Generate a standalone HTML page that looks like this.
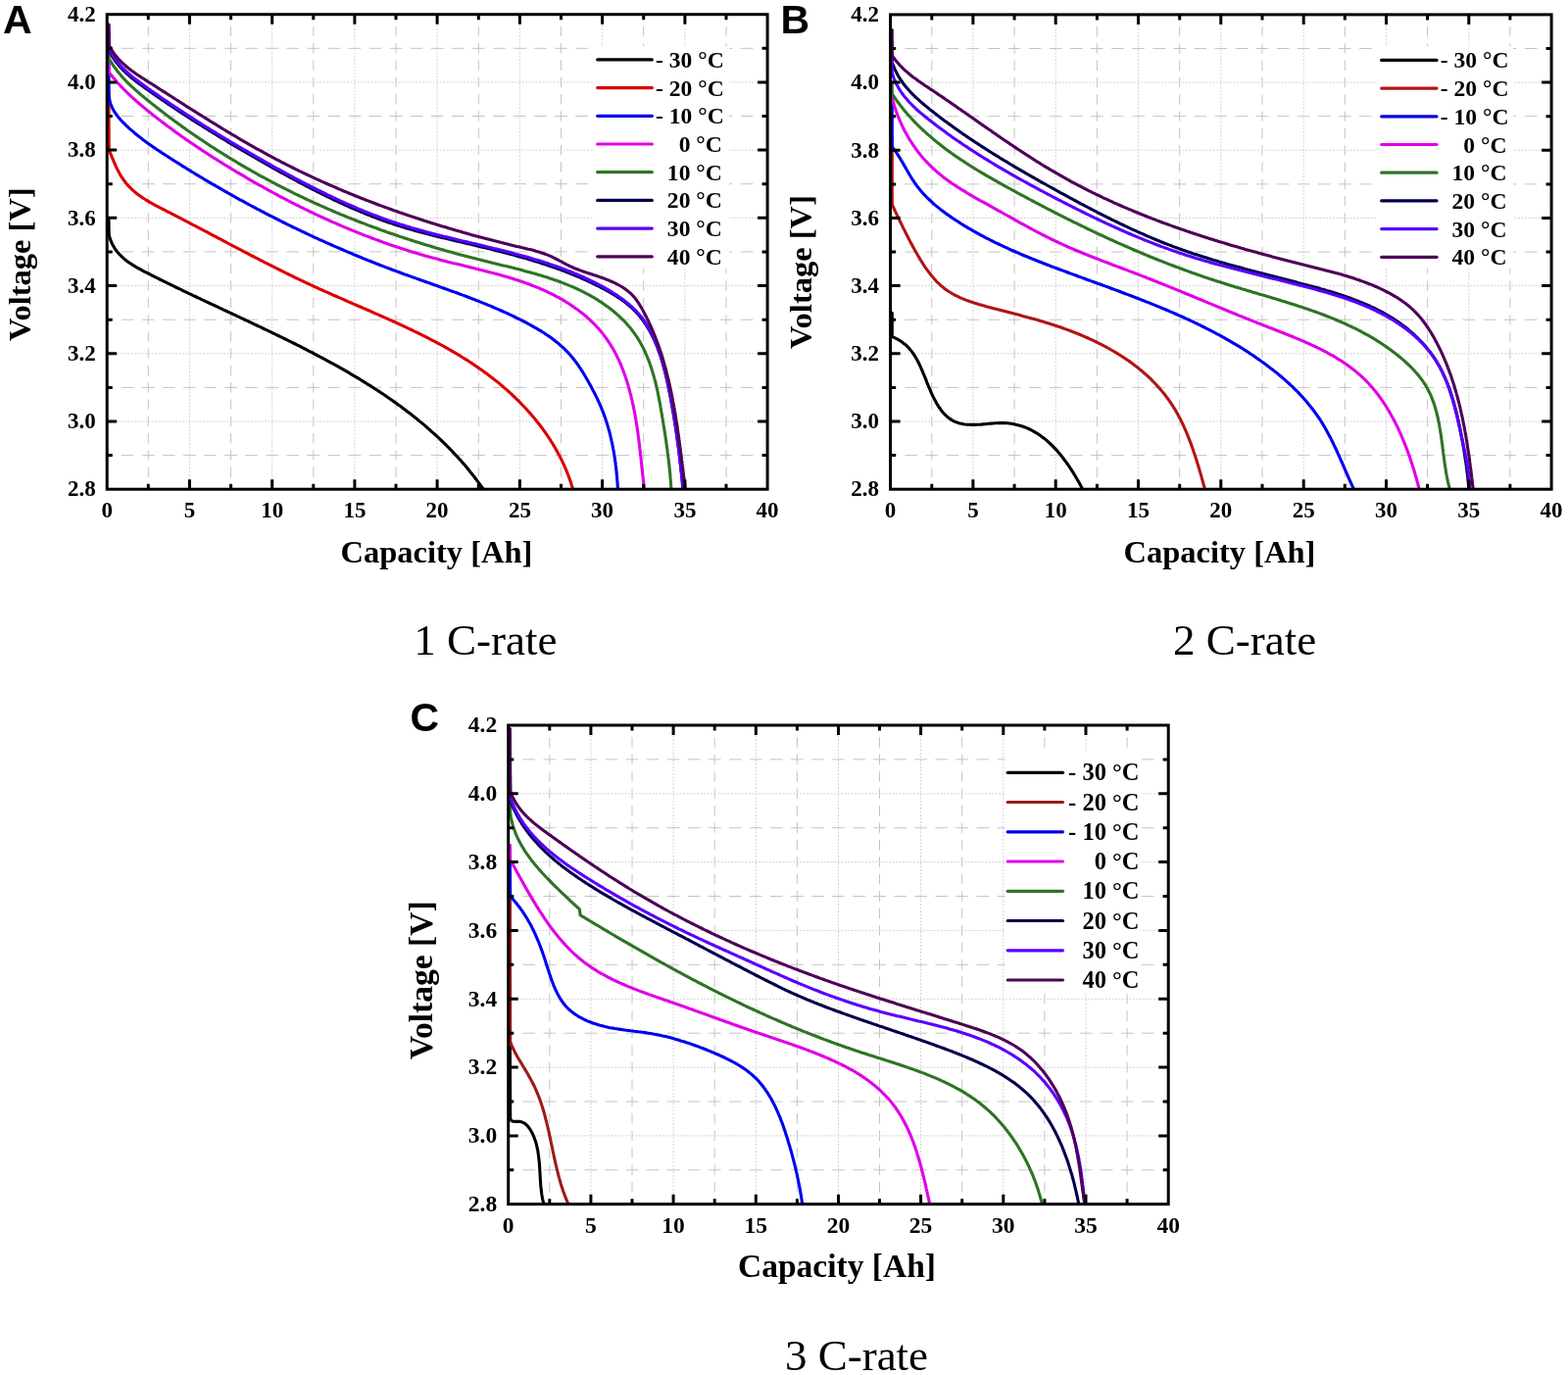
<!DOCTYPE html><html><head><meta charset="utf-8"><title>Discharge curves</title><style>html,body{margin:0;padding:0;background:#fff}svg{display:block}</style></head><body>
<svg width="1600" height="1403" viewBox="0 0 1600 1403">
<rect width="1600" height="1403" fill="#fff"/>
<clipPath id="clipA"><rect x="109.2" y="14.7" width="673.9" height="484.5"/></clipPath>
<path d="M109.2 464.6H783.1M109.2 395.4H783.1M109.2 326.2H783.1M109.2 256.9H783.1M109.2 187.7H783.1M109.2 118.5H783.1M109.2 49.3H783.1" stroke="#c4c4c4" stroke-width="1" stroke-dasharray="12.64 8.42" stroke-dashoffset="6.32" fill="none"/>
<path d="M151.3 14.7V499.2M235.6 14.7V499.2M319.8 14.7V499.2M404.0 14.7V499.2M488.3 14.7V499.2M572.5 14.7V499.2M656.7 14.7V499.2M741.0 14.7V499.2" stroke="#c4c4c4" stroke-width="1" stroke-dasharray="10.38 6.92" stroke-dashoffset="5.19" fill="none"/>
<path d="M109.2 430.0H783.1M109.2 360.8H783.1M109.2 291.6H783.1M109.2 222.3H783.1M109.2 153.1H783.1M109.2 83.9H783.1" stroke="#d2d2d2" stroke-width="1" stroke-dasharray="2 1.5" fill="none"/>
<path d="M193.4 14.7V499.2M277.7 14.7V499.2M361.9 14.7V499.2M446.1 14.7V499.2M530.4 14.7V499.2M614.6 14.7V499.2M698.9 14.7V499.2" stroke="#d2d2d2" stroke-width="1" stroke-dasharray="2 1.5" fill="none"/>
<rect x="605" y="47" width="139" height="227" fill="#fff"/>
<g clip-path="url(#clipA)" fill="none" stroke-width="3.1" stroke-linejoin="round" stroke-linecap="round">
<path d="M110.9 222.3 L111.2 239.6 L111.8 241.8 L112.4 243.9 L113.2 245.9 L114.0 247.8 L114.9 249.7 L115.9 251.4 L116.9 253.1 L118.0 254.8 L119.2 256.4 L120.4 257.9 L121.7 259.3 L123.1 260.7 L124.5 262.1 L125.9 263.4 L127.4 264.7 L128.9 265.9 L130.5 267.1 L132.1 268.2 L133.8 269.3 L135.4 270.4 L137.1 271.4 L138.9 272.5 L140.6 273.5 L142.4 274.4 L144.2 275.4 L145.9 276.3 L147.7 277.3 L149.6 278.2 L151.4 279.1 L153.2 280.0 L155.0 281.0 L156.8 281.9 L158.6 282.8 L160.4 283.7 L162.2 284.6 L164.0 285.5 L165.9 286.4 L167.7 287.3 L169.5 288.2 L171.3 289.1 L173.1 289.9 L174.9 290.8 L176.7 291.7 L178.5 292.6 L180.3 293.5 L182.2 294.3 L184.0 295.2 L185.8 296.1 L187.6 297.0 L189.4 297.8 L191.2 298.7 L193.0 299.6 L194.9 300.4 L196.7 301.3 L198.5 302.1 L200.3 303.0 L202.1 303.9 L203.9 304.7 L205.7 305.6 L207.6 306.4 L209.4 307.3 L211.2 308.1 L213.0 309.0 L214.8 309.8 L216.6 310.7 L218.4 311.5 L220.3 312.4 L222.1 313.2 L223.9 314.1 L225.7 314.9 L227.5 315.8 L229.3 316.6 L231.2 317.5 L233.0 318.3 L234.8 319.2 L236.6 320.0 L238.4 320.9 L240.2 321.7 L242.0 322.6 L243.9 323.4 L245.7 324.3 L247.5 325.1 L249.3 326.0 L251.1 326.8 L253.0 327.7 L254.8 328.6 L256.6 329.4 L258.4 330.3 L260.2 331.1 L262.0 332.0 L263.9 332.9 L265.7 333.7 L267.5 334.6 L269.3 335.5 L271.1 336.3 L273.0 337.2 L274.8 338.1 L276.6 338.9 L278.4 339.8 L280.2 340.7 L282.1 341.6 L283.9 342.5 L285.7 343.3 L287.5 344.2 L289.3 345.1 L291.2 346.0 L293.0 346.9 L294.8 347.8 L296.6 348.7 L298.4 349.6 L300.2 350.5 L302.1 351.4 L303.9 352.3 L305.7 353.2 L307.5 354.2 L309.3 355.1 L311.1 356.0 L312.9 356.9 L314.7 357.9 L316.5 358.8 L318.3 359.7 L320.1 360.7 L321.9 361.6 L323.7 362.6 L325.5 363.5 L327.3 364.5 L329.1 365.4 L330.9 366.4 L332.7 367.3 L334.5 368.3 L336.3 369.3 L338.1 370.3 L339.8 371.2 L341.6 372.2 L343.4 373.2 L345.2 374.2 L346.9 375.2 L348.7 376.2 L350.5 377.2 L352.2 378.2 L354.0 379.2 L355.7 380.2 L357.5 381.3 L359.3 382.3 L361.0 383.3 L362.7 384.4 L364.5 385.4 L366.2 386.4 L367.9 387.5 L369.7 388.6 L371.4 389.6 L373.1 390.7 L374.8 391.8 L376.6 392.8 L378.3 393.9 L380.0 395.0 L381.7 396.1 L383.4 397.2 L385.1 398.3 L386.8 399.4 L388.4 400.5 L390.1 401.6 L391.8 402.8 L393.5 403.9 L395.1 405.0 L396.8 406.2 L398.4 407.3 L400.1 408.5 L401.7 409.6 L403.4 410.8 L405.0 412.0 L406.6 413.2 L408.3 414.3 L409.9 415.5 L411.5 416.7 L413.1 417.9 L414.7 419.2 L416.3 420.4 L417.9 421.6 L419.5 422.8 L421.1 424.1 L422.6 425.3 L424.2 426.6 L425.8 427.8 L427.3 429.1 L428.9 430.4 L430.4 431.6 L432.0 432.9 L433.5 434.2 L435.0 435.5 L436.5 436.8 L438.0 438.1 L439.5 439.5 L441.0 440.8 L442.5 442.1 L444.0 443.5 L445.5 444.8 L446.9 446.2 L448.4 447.6 L449.9 449.0 L451.3 450.3 L452.7 451.7 L454.2 453.1 L455.6 454.5 L457.0 456.0 L458.4 457.4 L459.8 458.8 L461.2 460.3 L462.6 461.7 L464.0 463.2 L465.3 464.6 L466.7 466.1 L468.0 467.6 L469.4 469.1 L470.7 470.6 L472.0 472.1 L473.4 473.6 L474.7 475.1 L476.0 476.7 L477.3 478.2 L478.5 479.8 L479.8 481.4 L481.1 482.9 L482.3 484.5 L483.6 486.1 L484.8 487.7 L486.0 489.3 L487.2 490.9 L488.5 492.6 L489.7 494.2 L490.8 495.8 L492.0 497.5 L493.2 499.2" stroke="#000000"/>
<path d="M110.9 94.3 L111.2 153.1 L112.0 154.9 L112.7 156.6 L113.5 158.4 L114.2 160.3 L115.0 162.2 L115.8 164.1 L116.6 166.0 L117.5 167.9 L118.3 169.8 L119.2 171.7 L120.2 173.6 L121.1 175.4 L122.1 177.3 L123.2 179.1 L124.3 180.8 L125.4 182.5 L126.6 184.2 L127.8 185.8 L129.0 187.4 L130.3 188.9 L131.7 190.3 L133.1 191.7 L134.5 193.1 L135.9 194.4 L137.4 195.7 L139.0 197.0 L140.5 198.2 L142.1 199.4 L143.7 200.5 L145.3 201.6 L147.0 202.7 L148.7 203.8 L150.4 204.8 L152.1 205.9 L153.8 206.9 L155.6 207.9 L157.3 208.8 L159.1 209.8 L160.9 210.7 L162.7 211.7 L164.5 212.6 L166.3 213.5 L168.1 214.4 L169.9 215.4 L171.7 216.3 L173.5 217.2 L175.3 218.1 L177.1 219.0 L178.9 220.0 L180.7 220.9 L182.5 221.8 L184.2 222.7 L186.0 223.7 L187.8 224.6 L189.6 225.5 L191.4 226.5 L193.2 227.4 L195.0 228.3 L196.7 229.3 L198.5 230.2 L200.3 231.1 L202.1 232.1 L203.9 233.0 L205.6 233.9 L207.4 234.9 L209.2 235.8 L211.0 236.7 L212.8 237.7 L214.5 238.6 L216.3 239.6 L218.1 240.5 L219.9 241.4 L221.6 242.4 L223.4 243.3 L225.2 244.2 L226.9 245.2 L228.7 246.1 L230.5 247.0 L232.3 248.0 L234.0 248.9 L235.8 249.8 L237.6 250.8 L239.3 251.7 L241.1 252.6 L242.9 253.6 L244.7 254.5 L246.4 255.4 L248.2 256.4 L250.0 257.3 L251.8 258.2 L253.5 259.1 L255.3 260.1 L257.1 261.0 L258.9 261.9 L260.6 262.8 L262.4 263.7 L264.2 264.7 L266.0 265.6 L267.8 266.5 L269.5 267.4 L271.3 268.3 L273.1 269.2 L274.9 270.1 L276.7 271.0 L278.5 271.9 L280.3 272.8 L282.0 273.7 L283.8 274.6 L285.6 275.5 L287.4 276.4 L289.2 277.3 L291.0 278.2 L292.8 279.1 L294.6 280.0 L296.4 280.8 L298.2 281.7 L300.0 282.6 L301.8 283.5 L303.6 284.3 L305.4 285.2 L307.3 286.1 L309.1 286.9 L310.9 287.8 L312.7 288.7 L314.5 289.5 L316.4 290.4 L318.2 291.2 L320.0 292.1 L321.8 292.9 L323.7 293.7 L325.5 294.6 L327.3 295.4 L329.2 296.2 L331.0 297.1 L332.9 297.9 L334.7 298.7 L336.6 299.5 L338.4 300.4 L340.3 301.2 L342.1 302.0 L344.0 302.8 L345.8 303.6 L347.7 304.4 L349.5 305.2 L351.4 306.0 L353.2 306.8 L355.1 307.7 L356.9 308.5 L358.8 309.3 L360.7 310.1 L362.5 310.9 L364.4 311.7 L366.2 312.5 L368.1 313.3 L369.9 314.1 L371.8 314.9 L373.7 315.7 L375.5 316.5 L377.4 317.3 L379.2 318.1 L381.1 319.0 L382.9 319.8 L384.8 320.6 L386.6 321.4 L388.5 322.2 L390.3 323.0 L392.2 323.9 L394.0 324.7 L395.9 325.5 L397.7 326.3 L399.6 327.2 L401.4 328.0 L403.3 328.8 L405.1 329.7 L406.9 330.5 L408.8 331.4 L410.6 332.2 L412.4 333.1 L414.3 333.9 L416.1 334.8 L417.9 335.6 L419.7 336.5 L421.5 337.4 L423.4 338.3 L425.2 339.1 L427.0 340.0 L428.8 340.9 L430.6 341.8 L432.4 342.7 L434.2 343.6 L436.0 344.5 L437.7 345.4 L439.5 346.3 L441.3 347.3 L443.1 348.2 L444.9 349.1 L446.6 350.1 L448.4 351.0 L450.2 352.0 L451.9 352.9 L453.7 353.9 L455.4 354.9 L457.2 355.9 L458.9 356.9 L460.6 357.9 L462.3 358.9 L464.1 359.9 L465.8 360.9 L467.5 361.9 L469.2 362.9 L470.9 364.0 L472.6 365.0 L474.3 366.1 L476.0 367.2 L477.7 368.2 L479.3 369.3 L481.0 370.4 L482.7 371.5 L484.3 372.6 L486.0 373.7 L487.6 374.9 L489.2 376.0 L490.9 377.1 L492.5 378.3 L494.1 379.5 L495.7 380.6 L497.3 381.8 L498.9 383.0 L500.5 384.2 L502.1 385.4 L503.7 386.7 L505.2 387.9 L506.8 389.1 L508.4 390.4 L509.9 391.7 L511.4 393.0 L513.0 394.3 L514.5 395.6 L516.0 396.9 L517.5 398.2 L519.0 399.5 L520.5 400.9 L522.0 402.2 L523.4 403.6 L524.9 405.0 L526.3 406.4 L527.8 407.8 L529.2 409.2 L530.6 410.6 L532.0 412.1 L533.4 413.5 L534.8 415.0 L536.2 416.5 L537.5 417.9 L538.9 419.4 L540.2 420.9 L541.6 422.4 L542.9 424.0 L544.2 425.5 L545.5 427.0 L546.7 428.6 L548.0 430.2 L549.2 431.7 L550.5 433.3 L551.7 434.9 L552.9 436.5 L554.1 438.2 L555.3 439.8 L556.4 441.4 L557.6 443.1 L558.7 444.7 L559.8 446.4 L561.0 448.1 L562.0 449.8 L563.1 451.5 L564.2 453.2 L565.2 454.9 L566.2 456.6 L567.2 458.4 L568.2 460.1 L569.2 461.9 L570.1 463.7 L571.1 465.5 L572.0 467.2 L572.9 469.0 L573.8 470.9 L574.6 472.7 L575.5 474.5 L576.3 476.4 L577.1 478.2 L577.9 480.1 L578.6 481.9 L579.4 483.8 L580.1 485.7 L580.8 487.6 L581.5 489.5 L582.2 491.4 L582.8 493.4 L583.4 495.3 L584.0 497.3 L584.6 499.2" stroke="#dc0000"/>
<path d="M110.9 63.2 L111.2 97.8 L111.5 99.9 L111.8 102.0 L112.3 104.0 L112.9 106.0 L113.6 107.9 L114.4 109.7 L115.3 111.4 L116.2 113.1 L117.3 114.8 L118.4 116.4 L119.5 118.0 L120.7 119.5 L122.0 121.0 L123.3 122.5 L124.6 123.9 L126.0 125.3 L127.4 126.7 L128.8 128.1 L130.3 129.4 L131.7 130.8 L133.2 132.1 L134.7 133.4 L136.2 134.7 L137.7 136.0 L139.2 137.2 L140.8 138.5 L142.4 139.7 L143.9 140.9 L145.5 142.2 L147.1 143.4 L148.7 144.6 L150.4 145.7 L152.0 146.9 L153.6 148.1 L155.3 149.2 L156.9 150.4 L158.6 151.5 L160.3 152.7 L162.0 153.8 L163.7 154.9 L165.3 156.0 L167.0 157.1 L168.7 158.2 L170.4 159.3 L172.1 160.4 L173.8 161.5 L175.6 162.6 L177.3 163.7 L179.0 164.8 L180.7 165.9 L182.4 166.9 L184.1 168.0 L185.8 169.1 L187.5 170.2 L189.3 171.2 L191.0 172.3 L192.7 173.3 L194.4 174.4 L196.1 175.5 L197.9 176.5 L199.6 177.6 L201.3 178.6 L203.0 179.6 L204.8 180.7 L206.5 181.7 L208.2 182.8 L210.0 183.8 L211.7 184.8 L213.4 185.8 L215.2 186.9 L216.9 187.9 L218.7 188.9 L220.4 189.9 L222.2 190.9 L223.9 191.9 L225.6 192.9 L227.4 193.9 L229.1 194.9 L230.9 195.9 L232.6 196.9 L234.4 197.9 L236.2 198.9 L237.9 199.9 L239.7 200.8 L241.4 201.8 L243.2 202.8 L244.9 203.8 L246.7 204.7 L248.5 205.7 L250.2 206.7 L252.0 207.6 L253.8 208.6 L255.5 209.5 L257.3 210.5 L259.1 211.4 L260.9 212.4 L262.6 213.3 L264.4 214.2 L266.2 215.2 L268.0 216.1 L269.8 217.0 L271.5 218.0 L273.3 218.9 L275.1 219.8 L276.9 220.7 L278.7 221.6 L280.5 222.5 L282.3 223.4 L284.1 224.3 L285.8 225.2 L287.6 226.1 L289.4 227.0 L291.2 227.9 L293.0 228.8 L294.8 229.7 L296.6 230.6 L298.4 231.5 L300.2 232.3 L302.1 233.2 L303.9 234.1 L305.7 234.9 L307.5 235.8 L309.3 236.7 L311.1 237.5 L312.9 238.4 L314.7 239.2 L316.5 240.1 L318.4 240.9 L320.2 241.8 L322.0 242.6 L323.8 243.4 L325.7 244.3 L327.5 245.1 L329.3 245.9 L331.1 246.7 L333.0 247.6 L334.8 248.4 L336.6 249.2 L338.5 250.0 L340.3 250.8 L342.1 251.6 L344.0 252.4 L345.8 253.2 L347.6 254.0 L349.5 254.8 L351.3 255.6 L353.2 256.4 L355.0 257.2 L356.9 257.9 L358.7 258.7 L360.6 259.5 L362.4 260.3 L364.3 261.0 L366.1 261.8 L368.0 262.5 L369.8 263.3 L371.7 264.1 L373.5 264.8 L375.4 265.6 L377.3 266.3 L379.1 267.0 L381.0 267.8 L382.9 268.5 L384.7 269.3 L386.6 270.0 L388.5 270.7 L390.3 271.4 L392.2 272.1 L394.1 272.9 L396.0 273.6 L397.8 274.3 L399.7 275.0 L401.6 275.7 L403.5 276.4 L405.4 277.1 L407.2 277.8 L409.1 278.5 L411.0 279.2 L412.9 279.9 L414.8 280.5 L416.7 281.2 L418.6 281.9 L420.5 282.6 L422.4 283.3 L424.2 283.9 L426.1 284.6 L428.0 285.3 L429.9 286.0 L431.8 286.6 L433.7 287.3 L435.6 288.0 L437.5 288.6 L439.4 289.3 L441.3 290.0 L443.2 290.7 L445.1 291.3 L447.0 292.0 L448.9 292.7 L450.8 293.4 L452.7 294.0 L454.6 294.7 L456.5 295.4 L458.3 296.1 L460.2 296.8 L462.1 297.4 L464.0 298.1 L465.9 298.8 L467.8 299.5 L469.7 300.2 L471.6 300.9 L473.5 301.6 L475.3 302.3 L477.2 303.0 L479.1 303.8 L481.0 304.5 L482.9 305.2 L484.7 305.9 L486.6 306.7 L488.5 307.4 L490.4 308.1 L492.2 308.9 L494.1 309.6 L496.0 310.4 L497.8 311.2 L499.7 311.9 L501.5 312.7 L503.4 313.5 L505.2 314.3 L507.1 315.1 L508.9 315.9 L510.8 316.7 L512.6 317.5 L514.5 318.4 L516.3 319.2 L518.2 320.0 L520.0 320.9 L521.8 321.7 L523.6 322.6 L525.5 323.5 L527.3 324.4 L529.1 325.3 L530.9 326.2 L532.7 327.1 L534.5 328.0 L536.3 328.9 L538.1 329.9 L539.9 330.8 L541.7 331.8 L543.5 332.8 L545.2 333.8 L547.0 334.8 L548.7 335.8 L550.4 336.8 L552.2 337.9 L553.9 339.0 L555.6 340.0 L557.2 341.2 L558.9 342.3 L560.5 343.4 L562.2 344.6 L563.8 345.8 L565.4 347.0 L566.9 348.2 L568.5 349.4 L570.0 350.7 L571.5 352.0 L573.0 353.3 L574.5 354.6 L575.9 356.0 L577.3 357.4 L578.7 358.8 L580.1 360.2 L581.4 361.7 L582.7 363.2 L584.0 364.7 L585.2 366.2 L586.4 367.8 L587.6 369.4 L588.8 371.0 L590.0 372.6 L591.1 374.3 L592.2 375.9 L593.3 377.6 L594.4 379.3 L595.5 381.0 L596.5 382.8 L597.5 384.5 L598.5 386.3 L599.5 388.0 L600.5 389.8 L601.5 391.6 L602.5 393.3 L603.4 395.1 L604.4 396.9 L605.3 398.7 L606.3 400.5 L607.2 402.3 L608.1 404.1 L609.0 405.9 L609.9 407.8 L610.7 409.6 L611.6 411.4 L612.4 413.3 L613.2 415.1 L613.9 417.0 L614.7 418.8 L615.4 420.7 L616.1 422.6 L616.8 424.4 L617.5 426.3 L618.1 428.2 L618.7 430.1 L619.3 432.0 L619.9 433.9 L620.5 435.8 L621.0 437.7 L621.6 439.6 L622.1 441.6 L622.6 443.5 L623.0 445.4 L623.5 447.4 L623.9 449.3 L624.4 451.3 L624.8 453.2 L625.2 455.2 L625.5 457.2 L625.9 459.1 L626.3 461.1 L626.6 463.1 L626.9 465.0 L627.2 467.0 L627.5 469.0 L627.8 471.0 L628.1 473.0 L628.3 475.0 L628.6 477.0 L628.8 479.0 L629.0 481.0 L629.2 483.0 L629.4 485.0 L629.6 487.0 L629.7 489.1 L629.9 491.1 L630.1 493.1 L630.2 495.1 L630.3 497.2 L630.5 499.2" stroke="#0000f0"/>
<path d="M110.9 63.2 L111.2 73.6 L112.3 75.2 L113.6 76.7 L114.8 78.3 L116.0 79.8 L117.3 81.3 L118.6 82.8 L119.9 84.3 L121.2 85.7 L122.6 87.2 L123.9 88.6 L125.3 90.0 L126.7 91.5 L128.1 92.9 L129.5 94.2 L130.9 95.6 L132.4 97.0 L133.8 98.3 L135.3 99.7 L136.8 101.0 L138.2 102.3 L139.7 103.7 L141.2 105.0 L142.8 106.3 L144.3 107.6 L145.8 108.8 L147.3 110.1 L148.9 111.4 L150.4 112.7 L152.0 113.9 L153.6 115.2 L155.1 116.4 L156.7 117.7 L158.3 118.9 L159.9 120.2 L161.4 121.4 L163.0 122.6 L164.6 123.9 L166.2 125.1 L167.8 126.3 L169.4 127.5 L171.0 128.7 L172.7 129.9 L174.3 131.1 L175.9 132.3 L177.5 133.5 L179.2 134.7 L180.8 135.9 L182.5 137.0 L184.1 138.2 L185.8 139.4 L187.4 140.5 L189.1 141.7 L190.7 142.9 L192.4 144.0 L194.1 145.2 L195.7 146.3 L197.4 147.4 L199.1 148.6 L200.8 149.7 L202.5 150.8 L204.1 151.9 L205.8 153.1 L207.5 154.2 L209.2 155.3 L210.9 156.4 L212.6 157.5 L214.3 158.6 L216.0 159.7 L217.7 160.8 L219.4 161.8 L221.1 162.9 L222.9 164.0 L224.6 165.1 L226.3 166.1 L228.0 167.2 L229.7 168.3 L231.5 169.3 L233.2 170.4 L234.9 171.4 L236.6 172.5 L238.4 173.5 L240.1 174.6 L241.8 175.6 L243.6 176.6 L245.3 177.7 L247.0 178.7 L248.8 179.7 L250.5 180.7 L252.2 181.8 L254.0 182.8 L255.7 183.8 L257.5 184.8 L259.2 185.8 L261.0 186.8 L262.7 187.8 L264.5 188.8 L266.2 189.7 L268.0 190.7 L269.7 191.7 L271.5 192.7 L273.2 193.6 L275.0 194.6 L276.8 195.6 L278.5 196.5 L280.3 197.5 L282.1 198.4 L283.8 199.4 L285.6 200.3 L287.4 201.3 L289.1 202.2 L290.9 203.1 L292.7 204.0 L294.5 205.0 L296.2 205.9 L298.0 206.8 L299.8 207.7 L301.6 208.6 L303.4 209.5 L305.2 210.4 L307.0 211.3 L308.8 212.2 L310.6 213.1 L312.4 213.9 L314.1 214.8 L315.9 215.7 L317.8 216.5 L319.6 217.4 L321.4 218.3 L323.2 219.1 L325.0 220.0 L326.8 220.8 L328.6 221.6 L330.4 222.5 L332.2 223.3 L334.1 224.1 L335.9 225.0 L337.7 225.8 L339.5 226.6 L341.4 227.4 L343.2 228.2 L345.0 229.0 L346.9 229.8 L348.7 230.6 L350.5 231.4 L352.4 232.1 L354.2 232.9 L356.1 233.7 L357.9 234.4 L359.8 235.2 L361.6 235.9 L363.5 236.7 L365.3 237.4 L367.2 238.2 L369.0 238.9 L370.9 239.7 L372.8 240.4 L374.6 241.1 L376.5 241.8 L378.4 242.5 L380.2 243.2 L382.1 243.9 L384.0 244.6 L385.9 245.3 L387.8 246.0 L389.7 246.7 L391.5 247.4 L393.4 248.0 L395.3 248.7 L397.2 249.4 L399.1 250.0 L401.0 250.7 L402.9 251.3 L404.8 251.9 L406.7 252.6 L408.6 253.2 L410.5 253.8 L412.5 254.4 L414.4 255.1 L416.3 255.7 L418.2 256.3 L420.1 256.9 L422.1 257.5 L424.0 258.0 L425.9 258.6 L427.9 259.2 L429.8 259.8 L431.7 260.3 L433.7 260.9 L435.6 261.4 L437.6 262.0 L439.5 262.5 L441.5 263.1 L443.4 263.6 L445.4 264.1 L447.4 264.6 L449.3 265.2 L451.3 265.7 L453.3 266.2 L455.2 266.7 L457.2 267.2 L459.2 267.7 L461.1 268.2 L463.1 268.7 L465.1 269.1 L467.1 269.6 L469.1 270.1 L471.0 270.6 L473.0 271.1 L475.0 271.6 L477.0 272.0 L479.0 272.5 L480.9 273.0 L482.9 273.5 L484.9 274.0 L486.9 274.5 L488.8 274.9 L490.8 275.4 L492.8 275.9 L494.8 276.4 L496.7 276.9 L498.7 277.4 L500.7 278.0 L502.6 278.5 L504.6 279.0 L506.5 279.5 L508.5 280.1 L510.5 280.6 L512.4 281.2 L514.3 281.7 L516.3 282.3 L518.2 282.8 L520.2 283.4 L522.1 284.0 L524.0 284.6 L525.9 285.2 L527.8 285.8 L529.8 286.5 L531.7 287.1 L533.6 287.8 L535.5 288.4 L537.3 289.1 L539.2 289.8 L541.1 290.5 L543.0 291.2 L544.8 291.9 L546.7 292.7 L548.6 293.4 L550.4 294.2 L552.2 295.0 L554.1 295.8 L555.9 296.6 L557.7 297.4 L559.5 298.3 L561.3 299.1 L563.1 300.0 L564.9 300.9 L566.6 301.8 L568.4 302.8 L570.2 303.7 L571.9 304.7 L573.7 305.7 L575.4 306.7 L577.1 307.8 L578.8 308.8 L580.5 309.9 L582.2 311.0 L583.8 312.1 L585.5 313.2 L587.1 314.4 L588.8 315.6 L590.4 316.8 L592.0 318.0 L593.6 319.2 L595.1 320.4 L596.7 321.7 L598.2 323.0 L599.7 324.3 L601.2 325.7 L602.6 327.0 L604.1 328.4 L605.5 329.8 L606.9 331.2 L608.2 332.6 L609.6 334.1 L610.9 335.5 L612.2 337.0 L613.5 338.5 L614.7 340.1 L615.9 341.6 L617.1 343.2 L618.3 344.8 L619.4 346.4 L620.5 348.0 L621.6 349.6 L622.7 351.3 L623.7 352.9 L624.7 354.6 L625.7 356.3 L626.7 358.1 L627.6 359.8 L628.5 361.5 L629.4 363.3 L630.3 365.1 L631.2 366.9 L632.0 368.7 L632.8 370.5 L633.6 372.3 L634.4 374.2 L635.1 376.1 L635.8 377.9 L636.5 379.8 L637.2 381.7 L637.9 383.6 L638.5 385.5 L639.2 387.4 L639.8 389.4 L640.4 391.3 L641.0 393.3 L641.5 395.2 L642.1 397.2 L642.6 399.1 L643.1 401.1 L643.7 403.1 L644.1 405.1 L644.6 407.1 L645.1 409.1 L645.5 411.1 L646.0 413.1 L646.4 415.2 L646.8 417.2 L647.2 419.2 L647.6 421.2 L648.0 423.3 L648.3 425.3 L648.7 427.4 L649.0 429.4 L649.3 431.4 L649.7 433.5 L650.0 435.5 L650.3 437.6 L650.6 439.6 L650.9 441.7 L651.2 443.7 L651.4 445.7 L651.7 447.8 L652.0 449.8 L652.2 451.9 L652.5 453.9 L652.7 455.9 L652.9 458.0 L653.2 460.0 L653.4 462.0 L653.6 464.0 L653.9 466.0 L654.1 468.1 L654.3 470.1 L654.5 472.1 L654.7 474.0 L654.9 476.0 L655.1 478.0 L655.3 480.0 L655.5 481.9 L655.7 483.9 L655.9 485.8 L656.2 487.8 L656.4 489.7 L656.6 491.6 L656.8 493.5 L657.0 495.4 L657.2 497.3 L657.4 499.2" stroke="#e000e8"/>
<path d="M110.9 49.3 L111.2 59.7 L112.2 61.5 L113.2 63.2 L114.3 64.9 L115.4 66.6 L116.6 68.2 L117.7 69.8 L118.9 71.4 L120.1 73.0 L121.4 74.6 L122.7 76.1 L123.9 77.6 L125.3 79.1 L126.6 80.5 L128.0 82.0 L129.3 83.4 L130.7 84.8 L132.1 86.2 L133.6 87.5 L135.0 88.9 L136.5 90.2 L138.0 91.6 L139.5 92.9 L141.0 94.2 L142.5 95.5 L144.0 96.8 L145.5 98.1 L147.1 99.3 L148.6 100.6 L150.1 101.9 L151.7 103.1 L153.3 104.4 L154.8 105.6 L156.4 106.9 L158.0 108.1 L159.5 109.4 L161.1 110.6 L162.7 111.8 L164.3 113.1 L165.9 114.3 L167.5 115.5 L169.1 116.7 L170.7 117.9 L172.3 119.2 L173.9 120.4 L175.5 121.6 L177.1 122.8 L178.8 124.0 L180.4 125.1 L182.0 126.3 L183.7 127.5 L185.3 128.7 L186.9 129.9 L188.6 131.0 L190.2 132.2 L191.9 133.4 L193.5 134.5 L195.2 135.7 L196.8 136.8 L198.5 138.0 L200.2 139.1 L201.8 140.3 L203.5 141.4 L205.2 142.5 L206.9 143.6 L208.6 144.8 L210.3 145.9 L211.9 147.0 L213.6 148.1 L215.3 149.2 L217.0 150.3 L218.7 151.4 L220.4 152.5 L222.1 153.6 L223.8 154.7 L225.6 155.7 L227.3 156.8 L229.0 157.9 L230.7 158.9 L232.4 160.0 L234.2 161.1 L235.9 162.1 L237.6 163.2 L239.3 164.2 L241.1 165.2 L242.8 166.3 L244.6 167.3 L246.3 168.3 L248.0 169.3 L249.8 170.4 L251.5 171.4 L253.3 172.4 L255.0 173.4 L256.8 174.4 L258.6 175.4 L260.3 176.3 L262.1 177.3 L263.8 178.3 L265.6 179.3 L267.4 180.3 L269.1 181.2 L270.9 182.2 L272.7 183.1 L274.5 184.1 L276.2 185.0 L278.0 186.0 L279.8 186.9 L281.6 187.8 L283.3 188.8 L285.1 189.7 L286.9 190.6 L288.7 191.5 L290.5 192.4 L292.3 193.3 L294.1 194.2 L295.9 195.1 L297.7 196.0 L299.4 196.9 L301.2 197.8 L303.0 198.6 L304.8 199.5 L306.6 200.4 L308.5 201.2 L310.3 202.1 L312.1 203.0 L313.9 203.8 L315.7 204.6 L317.5 205.5 L319.3 206.3 L321.1 207.1 L322.9 208.0 L324.8 208.8 L326.6 209.6 L328.4 210.4 L330.2 211.2 L332.1 212.0 L333.9 212.8 L335.7 213.6 L337.5 214.4 L339.4 215.2 L341.2 216.0 L343.0 216.8 L344.9 217.5 L346.7 218.3 L348.6 219.1 L350.4 219.8 L352.3 220.6 L354.1 221.3 L355.9 222.1 L357.8 222.8 L359.6 223.6 L361.5 224.3 L363.4 225.0 L365.2 225.8 L367.1 226.5 L368.9 227.2 L370.8 227.9 L372.7 228.6 L374.5 229.4 L376.4 230.1 L378.3 230.8 L380.1 231.5 L382.0 232.1 L383.9 232.8 L385.7 233.5 L387.6 234.2 L389.5 234.9 L391.4 235.5 L393.3 236.2 L395.1 236.9 L397.0 237.5 L398.9 238.2 L400.8 238.8 L402.7 239.5 L404.6 240.1 L406.5 240.8 L408.4 241.4 L410.3 242.1 L412.2 242.7 L414.1 243.3 L416.0 243.9 L417.9 244.6 L419.8 245.2 L421.7 245.8 L423.6 246.4 L425.5 247.0 L427.4 247.6 L429.4 248.2 L431.3 248.8 L433.2 249.4 L435.1 250.0 L437.0 250.6 L439.0 251.1 L440.9 251.7 L442.8 252.3 L444.8 252.9 L446.7 253.4 L448.6 254.0 L450.6 254.5 L452.5 255.1 L454.4 255.7 L456.4 256.2 L458.3 256.8 L460.3 257.3 L462.2 257.8 L464.2 258.4 L466.1 258.9 L468.1 259.4 L470.0 260.0 L472.0 260.5 L473.9 261.0 L475.9 261.5 L477.9 262.0 L479.8 262.5 L481.8 263.1 L483.8 263.6 L485.7 264.1 L487.7 264.6 L489.7 265.0 L491.7 265.5 L493.6 266.0 L495.6 266.5 L497.6 267.0 L499.6 267.5 L501.6 268.0 L503.5 268.4 L505.5 268.9 L507.5 269.4 L509.5 269.9 L511.5 270.4 L513.5 270.9 L515.4 271.3 L517.4 271.8 L519.4 272.3 L521.4 272.8 L523.4 273.3 L525.3 273.8 L527.3 274.3 L529.3 274.8 L531.2 275.3 L533.2 275.8 L535.2 276.4 L537.1 276.9 L539.1 277.4 L541.1 277.9 L543.0 278.5 L545.0 279.0 L546.9 279.6 L548.8 280.2 L550.8 280.7 L552.7 281.3 L554.6 281.9 L556.6 282.5 L558.5 283.1 L560.4 283.8 L562.3 284.4 L564.2 285.0 L566.1 285.7 L568.0 286.3 L569.9 287.0 L571.7 287.7 L573.6 288.4 L575.5 289.1 L577.3 289.9 L579.2 290.6 L581.0 291.4 L582.8 292.1 L584.7 292.9 L586.5 293.7 L588.3 294.5 L590.1 295.4 L591.9 296.2 L593.7 297.1 L595.4 298.0 L597.2 298.9 L598.9 299.8 L600.7 300.7 L602.4 301.7 L604.1 302.7 L605.9 303.7 L607.6 304.7 L609.3 305.7 L610.9 306.8 L612.6 307.8 L614.3 308.9 L615.9 310.1 L617.5 311.2 L619.2 312.4 L620.8 313.5 L622.4 314.7 L623.9 316.0 L625.5 317.2 L627.0 318.5 L628.6 319.8 L630.1 321.1 L631.5 322.4 L633.0 323.8 L634.4 325.2 L635.9 326.6 L637.3 328.0 L638.6 329.4 L640.0 330.9 L641.3 332.4 L642.6 333.9 L643.8 335.4 L645.0 337.0 L646.2 338.6 L647.4 340.2 L648.5 341.8 L649.6 343.4 L650.7 345.1 L651.7 346.7 L652.8 348.4 L653.7 350.2 L654.7 351.9 L655.6 353.6 L656.5 355.4 L657.4 357.2 L658.2 359.0 L659.0 360.8 L659.8 362.6 L660.6 364.5 L661.3 366.4 L662.1 368.2 L662.8 370.1 L663.4 372.0 L664.1 373.9 L664.7 375.8 L665.3 377.8 L665.9 379.7 L666.5 381.7 L667.1 383.6 L667.6 385.6 L668.2 387.6 L668.7 389.5 L669.2 391.5 L669.6 393.5 L670.1 395.5 L670.6 397.5 L671.0 399.5 L671.4 401.5 L671.8 403.6 L672.2 405.6 L672.6 407.6 L673.0 409.6 L673.4 411.6 L673.8 413.7 L674.1 415.7 L674.5 417.7 L674.8 419.7 L675.2 421.8 L675.5 423.8 L675.8 425.8 L676.2 427.8 L676.5 429.8 L676.8 431.8 L677.1 433.8 L677.5 435.8 L677.8 437.8 L678.1 439.8 L678.4 441.8 L678.7 443.7 L679.0 445.7 L679.3 447.7 L679.6 449.7 L679.9 451.6 L680.1 453.6 L680.4 455.6 L680.7 457.5 L681.0 459.5 L681.2 461.5 L681.5 463.5 L681.7 465.4 L682.0 467.4 L682.2 469.4 L682.4 471.3 L682.7 473.3 L682.9 475.3 L683.1 477.2 L683.3 479.2 L683.5 481.2 L683.7 483.2 L683.9 485.2 L684.0 487.2 L684.2 489.2 L684.4 491.2 L684.5 493.2 L684.6 495.2 L684.8 497.2 L684.9 499.2" stroke="#2e7424"/>
<path d="M110.9 32.0 L111.2 51.1 L112.0 52.9 L113.0 54.7 L113.9 56.4 L114.9 58.1 L116.0 59.8 L117.1 61.4 L118.2 63.0 L119.4 64.5 L120.7 66.0 L121.9 67.5 L123.2 69.0 L124.6 70.4 L126.0 71.8 L127.4 73.2 L128.8 74.6 L130.2 75.9 L131.7 77.2 L133.2 78.5 L134.8 79.8 L136.3 81.1 L137.9 82.3 L139.5 83.5 L141.1 84.7 L142.7 85.9 L144.3 87.1 L146.0 88.3 L147.6 89.5 L149.2 90.7 L150.9 91.8 L152.6 93.0 L154.2 94.2 L155.9 95.3 L157.5 96.5 L159.2 97.6 L160.8 98.7 L162.5 99.9 L164.2 101.0 L165.8 102.2 L167.5 103.3 L169.2 104.4 L170.8 105.6 L172.5 106.7 L174.2 107.8 L175.8 108.9 L177.5 110.0 L179.2 111.1 L180.9 112.2 L182.5 113.4 L184.2 114.5 L185.9 115.6 L187.6 116.7 L189.3 117.7 L190.9 118.8 L192.6 119.9 L194.3 121.0 L196.0 122.1 L197.7 123.2 L199.4 124.3 L201.1 125.3 L202.8 126.4 L204.5 127.5 L206.2 128.5 L207.9 129.6 L209.6 130.7 L211.3 131.7 L213.0 132.8 L214.7 133.8 L216.4 134.9 L218.1 135.9 L219.8 137.0 L221.5 138.0 L223.2 139.1 L224.9 140.1 L226.6 141.2 L228.3 142.2 L230.1 143.2 L231.8 144.3 L233.5 145.3 L235.2 146.3 L236.9 147.3 L238.7 148.4 L240.4 149.4 L242.1 150.4 L243.8 151.4 L245.6 152.4 L247.3 153.5 L249.0 154.5 L250.8 155.5 L252.5 156.5 L254.2 157.5 L256.0 158.5 L257.7 159.5 L259.4 160.5 L261.2 161.5 L262.9 162.5 L264.6 163.5 L266.4 164.5 L268.1 165.5 L269.9 166.5 L271.6 167.4 L273.4 168.4 L275.1 169.4 L276.9 170.4 L278.6 171.4 L280.4 172.4 L282.1 173.3 L283.9 174.3 L285.7 175.3 L287.4 176.3 L289.2 177.2 L290.9 178.2 L292.7 179.2 L294.5 180.1 L296.2 181.1 L298.0 182.0 L299.8 183.0 L301.5 183.9 L303.3 184.9 L305.1 185.8 L306.9 186.8 L308.6 187.7 L310.4 188.7 L312.2 189.6 L314.0 190.5 L315.8 191.5 L317.5 192.4 L319.3 193.3 L321.1 194.2 L322.9 195.1 L324.7 196.0 L326.5 196.9 L328.3 197.8 L330.1 198.7 L331.9 199.6 L333.7 200.5 L335.5 201.4 L337.3 202.2 L339.1 203.1 L340.9 204.0 L342.7 204.8 L344.6 205.7 L346.4 206.5 L348.2 207.3 L350.0 208.2 L351.8 209.0 L353.7 209.8 L355.5 210.6 L357.3 211.5 L359.2 212.3 L361.0 213.1 L362.8 213.8 L364.7 214.6 L366.5 215.4 L368.4 216.2 L370.2 216.9 L372.1 217.7 L373.9 218.5 L375.8 219.2 L377.6 219.9 L379.5 220.7 L381.3 221.4 L383.2 222.1 L385.1 222.8 L386.9 223.5 L388.8 224.2 L390.7 224.9 L392.6 225.5 L394.4 226.2 L396.3 226.9 L398.2 227.5 L400.1 228.1 L402.0 228.8 L403.9 229.4 L405.8 230.0 L407.7 230.6 L409.6 231.2 L411.5 231.8 L413.4 232.4 L415.3 232.9 L417.2 233.5 L419.1 234.1 L421.1 234.6 L423.0 235.2 L424.9 235.7 L426.8 236.2 L428.7 236.7 L430.7 237.3 L432.6 237.8 L434.5 238.3 L436.5 238.8 L438.4 239.3 L440.3 239.8 L442.3 240.3 L444.2 240.8 L446.2 241.2 L448.1 241.7 L450.1 242.2 L452.0 242.7 L453.9 243.1 L455.9 243.6 L457.8 244.1 L459.8 244.5 L461.7 245.0 L463.7 245.5 L465.7 245.9 L467.6 246.4 L469.6 246.8 L471.5 247.3 L473.5 247.7 L475.4 248.2 L477.4 248.7 L479.4 249.1 L481.3 249.6 L483.3 250.0 L485.2 250.5 L487.2 251.0 L489.2 251.4 L491.1 251.9 L493.1 252.4 L495.0 252.8 L497.0 253.3 L499.0 253.8 L500.9 254.3 L502.9 254.8 L504.8 255.2 L506.8 255.7 L508.8 256.2 L510.7 256.7 L512.7 257.2 L514.6 257.7 L516.6 258.2 L518.5 258.7 L520.5 259.3 L522.4 259.8 L524.4 260.3 L526.3 260.8 L528.3 261.4 L530.2 261.9 L532.2 262.5 L534.1 263.0 L536.0 263.6 L538.0 264.1 L539.9 264.7 L541.9 265.3 L543.8 265.9 L545.7 266.4 L547.6 267.0 L549.6 267.6 L551.5 268.3 L553.4 268.9 L555.3 269.5 L557.2 270.1 L559.1 270.8 L561.0 271.4 L562.9 272.0 L564.8 272.7 L566.7 273.4 L568.6 274.1 L570.5 274.7 L572.4 275.4 L574.3 276.1 L576.2 276.8 L578.0 277.6 L579.9 278.3 L581.8 279.0 L583.6 279.8 L585.5 280.5 L587.4 281.3 L589.2 282.1 L591.1 282.9 L592.9 283.6 L594.7 284.5 L596.6 285.3 L598.4 286.1 L600.2 286.9 L602.0 287.8 L603.8 288.6 L605.6 289.5 L607.4 290.4 L609.2 291.3 L611.0 292.2 L612.8 293.1 L614.6 294.0 L616.4 295.0 L618.1 295.9 L619.9 296.9 L621.6 297.9 L623.4 298.9 L625.1 299.9 L626.8 300.9 L628.5 302.0 L630.2 303.1 L631.8 304.2 L633.5 305.3 L635.1 306.4 L636.7 307.6 L638.3 308.8 L639.8 310.0 L641.3 311.3 L642.8 312.6 L644.3 313.9 L645.7 315.2 L647.1 316.6 L648.5 318.0 L649.8 319.4 L651.1 320.8 L652.4 322.3 L653.6 323.8 L654.8 325.4 L656.0 326.9 L657.2 328.5 L658.3 330.1 L659.4 331.7 L660.4 333.4 L661.4 335.1 L662.4 336.8 L663.4 338.5 L664.3 340.2 L665.2 342.0 L666.1 343.8 L667.0 345.6 L667.8 347.4 L668.6 349.2 L669.4 351.1 L670.2 352.9 L670.9 354.8 L671.6 356.7 L672.3 358.6 L673.0 360.5 L673.7 362.5 L674.3 364.4 L674.9 366.4 L675.5 368.3 L676.1 370.3 L676.6 372.3 L677.2 374.3 L677.7 376.2 L678.2 378.2 L678.7 380.2 L679.2 382.2 L679.7 384.3 L680.2 386.3 L680.6 388.3 L681.1 390.3 L681.5 392.3 L681.9 394.3 L682.3 396.3 L682.7 398.3 L683.1 400.3 L683.5 402.3 L683.9 404.3 L684.3 406.3 L684.7 408.3 L685.0 410.3 L685.4 412.3 L685.7 414.3 L686.1 416.2 L686.4 418.2 L686.8 420.2 L687.1 422.1 L687.4 424.1 L687.8 426.0 L688.1 428.0 L688.4 429.9 L688.7 431.9 L689.0 433.8 L689.3 435.8 L689.6 437.7 L689.9 439.7 L690.2 441.6 L690.5 443.5 L690.8 445.5 L691.0 447.4 L691.3 449.4 L691.6 451.3 L691.8 453.3 L692.1 455.2 L692.3 457.2 L692.6 459.1 L692.8 461.1 L693.1 463.0 L693.3 465.0 L693.6 467.0 L693.8 468.9 L694.0 470.9 L694.2 472.9 L694.5 474.9 L694.7 476.9 L694.9 478.9 L695.1 480.9 L695.3 482.9 L695.5 484.9 L695.7 486.9 L695.9 488.9 L696.1 491.0 L696.3 493.0 L696.5 495.1 L696.7 497.1 L696.8 499.2" stroke="#00004a"/>
<path d="M110.9 25.1 L111.2 49.3 L112.0 51.1 L113.0 52.9 L113.9 54.7 L114.9 56.4 L116.0 58.0 L117.1 59.6 L118.3 61.2 L119.5 62.8 L120.7 64.3 L122.0 65.8 L123.3 67.3 L124.6 68.7 L126.0 70.1 L127.4 71.5 L128.9 72.9 L130.3 74.2 L131.8 75.5 L133.3 76.8 L134.9 78.1 L136.4 79.4 L138.0 80.6 L139.6 81.8 L141.2 83.0 L142.8 84.3 L144.4 85.4 L146.1 86.6 L147.7 87.8 L149.4 89.0 L151.0 90.2 L152.7 91.3 L154.3 92.5 L156.0 93.6 L157.6 94.8 L159.3 95.9 L161.0 97.1 L162.6 98.2 L164.3 99.4 L165.9 100.5 L167.6 101.7 L169.3 102.8 L170.9 103.9 L172.6 105.0 L174.3 106.2 L176.0 107.3 L177.6 108.4 L179.3 109.5 L181.0 110.6 L182.7 111.7 L184.4 112.8 L186.0 113.9 L187.7 115.0 L189.4 116.1 L191.1 117.2 L192.8 118.3 L194.5 119.4 L196.2 120.5 L197.9 121.6 L199.5 122.7 L201.2 123.7 L202.9 124.8 L204.6 125.9 L206.3 127.0 L208.0 128.0 L209.7 129.1 L211.4 130.2 L213.1 131.2 L214.8 132.3 L216.6 133.3 L218.3 134.4 L220.0 135.4 L221.7 136.5 L223.4 137.5 L225.1 138.6 L226.8 139.6 L228.5 140.6 L230.3 141.7 L232.0 142.7 L233.7 143.7 L235.4 144.8 L237.2 145.8 L238.9 146.8 L240.6 147.8 L242.3 148.9 L244.1 149.9 L245.8 150.9 L247.5 151.9 L249.3 152.9 L251.0 153.9 L252.7 154.9 L254.5 155.9 L256.2 156.9 L258.0 157.9 L259.7 158.9 L261.4 159.9 L263.2 160.9 L264.9 161.9 L266.7 162.9 L268.4 163.9 L270.2 164.9 L271.9 165.9 L273.7 166.9 L275.5 167.9 L277.2 168.8 L279.0 169.8 L280.7 170.8 L282.5 171.8 L284.3 172.7 L286.0 173.7 L287.8 174.7 L289.6 175.6 L291.3 176.6 L293.1 177.6 L294.9 178.5 L296.6 179.5 L298.4 180.4 L300.2 181.4 L302.0 182.3 L303.8 183.3 L305.5 184.2 L307.3 185.2 L309.1 186.1 L310.9 187.0 L312.7 188.0 L314.5 188.9 L316.3 189.8 L318.1 190.7 L319.9 191.6 L321.7 192.5 L323.5 193.4 L325.3 194.3 L327.1 195.2 L328.9 196.1 L330.7 197.0 L332.5 197.9 L334.3 198.8 L336.1 199.6 L337.9 200.5 L339.7 201.4 L341.6 202.2 L343.4 203.1 L345.2 203.9 L347.0 204.8 L348.8 205.6 L350.7 206.4 L352.5 207.3 L354.3 208.1 L356.2 208.9 L358.0 209.7 L359.8 210.5 L361.7 211.3 L363.5 212.1 L365.4 212.9 L367.2 213.6 L369.1 214.4 L370.9 215.2 L372.8 215.9 L374.6 216.7 L376.5 217.4 L378.4 218.2 L380.2 218.9 L382.1 219.6 L384.0 220.3 L385.8 221.0 L387.7 221.7 L389.6 222.4 L391.5 223.1 L393.3 223.8 L395.2 224.4 L397.1 225.1 L399.0 225.8 L400.9 226.4 L402.8 227.0 L404.7 227.7 L406.6 228.3 L408.5 228.9 L410.4 229.5 L412.3 230.1 L414.2 230.7 L416.1 231.2 L418.0 231.8 L419.9 232.4 L421.8 232.9 L423.7 233.5 L425.7 234.0 L427.6 234.6 L429.5 235.1 L431.4 235.6 L433.4 236.2 L435.3 236.7 L437.2 237.2 L439.2 237.7 L441.1 238.2 L443.0 238.7 L445.0 239.2 L446.9 239.7 L448.9 240.2 L450.8 240.7 L452.7 241.2 L454.7 241.6 L456.6 242.1 L458.6 242.6 L460.5 243.1 L462.5 243.5 L464.4 244.0 L466.4 244.5 L468.4 244.9 L470.3 245.4 L472.3 245.9 L474.2 246.3 L476.2 246.8 L478.2 247.3 L480.1 247.7 L482.1 248.2 L484.0 248.6 L486.0 249.1 L488.0 249.6 L489.9 250.0 L491.9 250.5 L493.9 251.0 L495.8 251.5 L497.8 251.9 L499.8 252.4 L501.7 252.9 L503.7 253.4 L505.7 253.8 L507.7 254.3 L509.6 254.8 L511.6 255.3 L513.6 255.8 L515.5 256.3 L517.5 256.8 L519.5 257.3 L521.4 257.8 L523.4 258.3 L525.3 258.9 L527.3 259.4 L529.3 259.9 L531.2 260.5 L533.2 261.0 L535.1 261.5 L537.1 262.1 L539.0 262.6 L541.0 263.2 L542.9 263.8 L544.8 264.4 L546.8 264.9 L548.7 265.5 L550.6 266.1 L552.6 266.7 L554.5 267.3 L556.4 268.0 L558.3 268.6 L560.3 269.2 L562.2 269.9 L564.1 270.5 L566.0 271.2 L567.9 271.8 L569.8 272.5 L571.7 273.2 L573.6 273.9 L575.5 274.6 L577.3 275.3 L579.2 276.1 L581.1 276.8 L582.9 277.5 L584.8 278.3 L586.7 279.1 L588.5 279.8 L590.4 280.6 L592.2 281.4 L594.0 282.2 L595.9 283.0 L597.7 283.9 L599.5 284.7 L601.3 285.6 L603.1 286.5 L604.9 287.3 L606.7 288.2 L608.5 289.1 L610.3 290.1 L612.0 291.0 L613.8 291.9 L615.6 292.9 L617.3 293.9 L619.1 294.9 L620.8 295.9 L622.5 296.9 L624.2 297.9 L625.9 299.0 L627.6 300.0 L629.3 301.1 L630.9 302.2 L632.6 303.4 L634.2 304.5 L635.8 305.7 L637.4 306.9 L638.9 308.1 L640.4 309.4 L642.0 310.6 L643.4 311.9 L644.9 313.2 L646.3 314.6 L647.7 315.9 L649.1 317.3 L650.4 318.7 L651.7 320.2 L653.0 321.7 L654.3 323.2 L655.5 324.7 L656.6 326.3 L657.8 327.9 L658.9 329.5 L659.9 331.2 L661.0 332.9 L662.0 334.6 L662.9 336.3 L663.9 338.0 L664.8 339.8 L665.7 341.6 L666.6 343.4 L667.4 345.3 L668.2 347.1 L669.0 349.0 L669.7 350.9 L670.5 352.8 L671.2 354.7 L671.9 356.6 L672.6 358.5 L673.2 360.5 L673.9 362.4 L674.5 364.4 L675.1 366.3 L675.7 368.3 L676.3 370.3 L676.8 372.2 L677.4 374.2 L677.9 376.2 L678.4 378.2 L678.9 380.2 L679.4 382.2 L679.9 384.1 L680.4 386.1 L680.8 388.1 L681.3 390.1 L681.7 392.1 L682.1 394.1 L682.5 396.1 L683.0 398.1 L683.4 400.1 L683.7 402.0 L684.1 404.0 L684.5 406.0 L684.9 408.0 L685.2 410.0 L685.6 411.9 L685.9 413.9 L686.3 415.9 L686.6 417.9 L687.0 419.8 L687.3 421.8 L687.6 423.8 L687.9 425.7 L688.2 427.7 L688.5 429.7 L688.8 431.6 L689.1 433.6 L689.4 435.6 L689.7 437.5 L690.0 439.5 L690.3 441.5 L690.5 443.4 L690.8 445.4 L691.1 447.4 L691.3 449.3 L691.6 451.3 L691.9 453.3 L692.1 455.2 L692.4 457.2 L692.6 459.2 L692.9 461.2 L693.1 463.1 L693.4 465.1 L693.6 467.1 L693.8 469.1 L694.1 471.1 L694.3 473.1 L694.5 475.1 L694.8 477.0 L695.0 479.0 L695.2 481.0 L695.5 483.0 L695.7 485.1 L695.9 487.1 L696.2 489.1 L696.4 491.1 L696.6 493.1 L696.9 495.1 L697.1 497.2 L697.3 499.2" stroke="#5800ff"/>
<path d="M110.9 25.1 L111.2 45.9 L112.1 47.7 L113.1 49.5 L114.2 51.3 L115.3 52.9 L116.4 54.6 L117.6 56.2 L118.8 57.7 L120.1 59.3 L121.4 60.7 L122.8 62.1 L124.2 63.5 L125.6 64.9 L127.1 66.2 L128.6 67.5 L130.1 68.8 L131.6 70.0 L133.2 71.2 L134.8 72.4 L136.4 73.6 L138.0 74.7 L139.7 75.9 L141.3 77.0 L143.0 78.1 L144.7 79.2 L146.4 80.3 L148.1 81.4 L149.8 82.5 L151.5 83.6 L153.2 84.6 L154.9 85.7 L156.6 86.8 L158.3 87.9 L160.0 89.0 L161.7 90.1 L163.4 91.2 L165.1 92.3 L166.8 93.3 L168.5 94.4 L170.2 95.5 L171.9 96.6 L173.6 97.7 L175.3 98.8 L177.0 99.9 L178.7 101.0 L180.4 102.0 L182.1 103.1 L183.8 104.2 L185.5 105.3 L187.2 106.4 L188.9 107.5 L190.6 108.6 L192.3 109.6 L194.0 110.7 L195.7 111.8 L197.4 112.9 L199.1 113.9 L200.8 115.0 L202.5 116.1 L204.2 117.2 L205.9 118.2 L207.6 119.3 L209.4 120.4 L211.1 121.4 L212.8 122.5 L214.5 123.6 L216.2 124.6 L217.9 125.7 L219.6 126.7 L221.4 127.8 L223.1 128.9 L224.8 129.9 L226.5 131.0 L228.2 132.0 L230.0 133.0 L231.7 134.1 L233.4 135.1 L235.1 136.1 L236.9 137.2 L238.6 138.2 L240.3 139.2 L242.1 140.3 L243.8 141.3 L245.5 142.3 L247.3 143.3 L249.0 144.3 L250.8 145.3 L252.5 146.3 L254.2 147.3 L256.0 148.3 L257.7 149.3 L259.5 150.3 L261.2 151.3 L263.0 152.3 L264.7 153.2 L266.5 154.2 L268.3 155.2 L270.0 156.2 L271.8 157.1 L273.5 158.1 L275.3 159.0 L277.1 160.0 L278.9 160.9 L280.6 161.9 L282.4 162.8 L284.2 163.7 L286.0 164.7 L287.7 165.6 L289.5 166.5 L291.3 167.4 L293.1 168.3 L294.9 169.2 L296.7 170.1 L298.5 171.0 L300.3 171.9 L302.1 172.8 L303.9 173.7 L305.7 174.6 L307.5 175.4 L309.3 176.3 L311.1 177.2 L312.9 178.0 L314.7 178.9 L316.5 179.7 L318.4 180.6 L320.2 181.4 L322.0 182.3 L323.8 183.1 L325.6 183.9 L327.5 184.8 L329.3 185.6 L331.1 186.4 L333.0 187.2 L334.8 188.0 L336.6 188.8 L338.5 189.6 L340.3 190.4 L342.1 191.2 L344.0 192.0 L345.8 192.8 L347.7 193.6 L349.5 194.4 L351.4 195.2 L353.2 195.9 L355.1 196.7 L356.9 197.5 L358.8 198.2 L360.6 199.0 L362.5 199.7 L364.4 200.5 L366.2 201.2 L368.1 202.0 L370.0 202.7 L371.8 203.4 L373.7 204.2 L375.6 204.9 L377.4 205.6 L379.3 206.3 L381.2 207.0 L383.1 207.8 L384.9 208.5 L386.8 209.2 L388.7 209.9 L390.6 210.6 L392.5 211.3 L394.3 211.9 L396.2 212.6 L398.1 213.3 L400.0 214.0 L401.9 214.7 L403.8 215.3 L405.7 216.0 L407.6 216.7 L409.5 217.3 L411.4 218.0 L413.3 218.6 L415.2 219.3 L417.1 219.9 L419.0 220.6 L420.9 221.2 L422.8 221.8 L424.7 222.5 L426.6 223.1 L428.5 223.7 L430.4 224.3 L432.3 225.0 L434.2 225.6 L436.2 226.2 L438.1 226.8 L440.0 227.4 L441.9 228.0 L443.8 228.6 L445.7 229.2 L447.7 229.8 L449.6 230.4 L451.5 231.0 L453.4 231.5 L455.4 232.1 L457.3 232.7 L459.2 233.3 L461.1 233.8 L463.1 234.4 L465.0 235.0 L466.9 235.5 L468.9 236.1 L470.8 236.6 L472.7 237.2 L474.7 237.7 L476.6 238.3 L478.5 238.8 L480.5 239.4 L482.4 239.9 L484.4 240.4 L486.3 241.0 L488.2 241.5 L490.2 242.0 L492.1 242.5 L494.1 243.0 L496.0 243.6 L498.0 244.1 L499.9 244.6 L501.9 245.1 L503.8 245.6 L505.8 246.1 L507.7 246.6 L509.7 247.1 L511.6 247.6 L513.6 248.0 L515.5 248.5 L517.5 249.0 L519.4 249.5 L521.4 250.0 L523.3 250.4 L525.3 250.9 L527.2 251.4 L529.2 251.8 L531.2 252.3 L533.1 252.8 L535.1 253.2 L537.0 253.7 L539.0 254.2 L540.9 254.6 L542.9 255.1 L544.8 255.6 L546.7 256.2 L548.6 256.7 L550.5 257.3 L552.4 257.9 L554.3 258.5 L556.2 259.2 L558.0 259.9 L559.9 260.6 L561.7 261.4 L563.5 262.2 L565.2 263.1 L567.0 264.0 L568.8 264.9 L570.5 265.8 L572.3 266.7 L574.0 267.7 L575.7 268.6 L577.5 269.5 L579.3 270.5 L581.1 271.3 L582.9 272.2 L584.7 273.0 L586.5 273.8 L588.4 274.5 L590.3 275.2 L592.1 275.9 L594.0 276.6 L595.9 277.3 L597.8 277.9 L599.8 278.6 L601.7 279.2 L603.6 279.8 L605.5 280.5 L607.5 281.1 L609.4 281.7 L611.3 282.4 L613.2 283.1 L615.2 283.7 L617.1 284.4 L619.0 285.2 L620.8 285.9 L622.7 286.7 L624.6 287.5 L626.4 288.3 L628.2 289.2 L630.0 290.1 L631.7 291.0 L633.5 292.0 L635.1 293.0 L636.8 294.1 L638.4 295.2 L640.0 296.4 L641.5 297.6 L643.0 298.9 L644.4 300.2 L645.7 301.6 L647.0 303.1 L648.3 304.6 L649.5 306.2 L650.6 307.8 L651.7 309.4 L652.8 311.2 L653.8 312.9 L654.9 314.6 L655.8 316.4 L656.8 318.2 L657.7 320.0 L658.7 321.8 L659.6 323.6 L660.5 325.4 L661.4 327.2 L662.2 329.0 L663.1 330.9 L663.9 332.7 L664.7 334.5 L665.5 336.4 L666.3 338.2 L667.1 340.1 L667.8 341.9 L668.6 343.8 L669.3 345.7 L670.0 347.6 L670.7 349.4 L671.4 351.3 L672.1 353.2 L672.8 355.1 L673.4 357.0 L674.0 358.9 L674.7 360.8 L675.3 362.7 L675.9 364.7 L676.5 366.6 L677.0 368.5 L677.6 370.4 L678.1 372.4 L678.7 374.3 L679.2 376.2 L679.7 378.2 L680.2 380.1 L680.7 382.1 L681.2 384.0 L681.7 386.0 L682.2 387.9 L682.6 389.9 L683.1 391.9 L683.5 393.8 L684.0 395.8 L684.4 397.8 L684.8 399.8 L685.2 401.7 L685.6 403.7 L686.0 405.7 L686.4 407.7 L686.7 409.7 L687.1 411.6 L687.5 413.6 L687.8 415.6 L688.2 417.6 L688.5 419.6 L688.9 421.6 L689.2 423.6 L689.5 425.6 L689.8 427.6 L690.1 429.6 L690.5 431.6 L690.8 433.6 L691.1 435.6 L691.4 437.6 L691.6 439.6 L691.9 441.6 L692.2 443.6 L692.5 445.6 L692.8 447.6 L693.0 449.6 L693.3 451.6 L693.6 453.6 L693.8 455.6 L694.1 457.6 L694.4 459.6 L694.6 461.6 L694.9 463.6 L695.1 465.6 L695.4 467.5 L695.6 469.5 L695.9 471.5 L696.1 473.5 L696.4 475.5 L696.6 477.5 L696.9 479.5 L697.1 481.5 L697.4 483.4 L697.6 485.4 L697.9 487.4 L698.1 489.4 L698.4 491.3 L698.6 493.3 L698.9 495.3 L699.1 497.2 L699.4 499.2" stroke="#4e0058"/>
</g>
<path d="M151.3 499.2v-5.5M151.3 14.7v5.5M193.4 499.2v-10M193.4 14.7v10M235.6 499.2v-5.5M235.6 14.7v5.5M277.7 499.2v-10M277.7 14.7v10M319.8 499.2v-5.5M319.8 14.7v5.5M361.9 499.2v-10M361.9 14.7v10M404.0 499.2v-5.5M404.0 14.7v5.5M446.1 499.2v-10M446.1 14.7v10M488.3 499.2v-5.5M488.3 14.7v5.5M530.4 499.2v-10M530.4 14.7v10M572.5 499.2v-5.5M572.5 14.7v5.5M614.6 499.2v-10M614.6 14.7v10M656.7 499.2v-5.5M656.7 14.7v5.5M698.9 499.2v-10M698.9 14.7v10M741.0 499.2v-5.5M741.0 14.7v5.5M109.2 464.6h5.5M783.1 464.6h-5.5M109.2 430.0h10M783.1 430.0h-10M109.2 395.4h5.5M783.1 395.4h-5.5M109.2 360.8h10M783.1 360.8h-10M109.2 326.2h5.5M783.1 326.2h-5.5M109.2 291.6h10M783.1 291.6h-10M109.2 256.9h5.5M783.1 256.9h-5.5M109.2 222.3h10M783.1 222.3h-10M109.2 187.7h5.5M783.1 187.7h-5.5M109.2 153.1h10M783.1 153.1h-10M109.2 118.5h5.5M783.1 118.5h-5.5M109.2 83.9h10M783.1 83.9h-10M109.2 49.3h5.5M783.1 49.3h-5.5" stroke="#000" stroke-width="3" fill="none"/>
<rect x="109.2" y="14.7" width="673.9" height="484.5" fill="none" stroke="#000" stroke-width="3"/>
<g font-family="'Liberation Serif', 'Times New Roman', serif" font-weight="bold" font-size="23" fill="#000"><text x="109.2" y="527.6" text-anchor="middle">0</text><text x="193.4" y="527.6" text-anchor="middle">5</text><text x="277.7" y="527.6" text-anchor="middle">10</text><text x="361.9" y="527.6" text-anchor="middle">15</text><text x="446.1" y="527.6" text-anchor="middle">20</text><text x="530.4" y="527.6" text-anchor="middle">25</text><text x="614.6" y="527.6" text-anchor="middle">30</text><text x="698.9" y="527.6" text-anchor="middle">35</text><text x="783.1" y="527.6" text-anchor="middle">40</text><text x="97.7" y="506.4" text-anchor="end">2.8</text><text x="97.7" y="437.2" text-anchor="end">3.0</text><text x="97.7" y="368.0" text-anchor="end">3.2</text><text x="97.7" y="298.8" text-anchor="end">3.4</text><text x="97.7" y="229.5" text-anchor="end">3.6</text><text x="97.7" y="160.3" text-anchor="end">3.8</text><text x="97.7" y="91.1" text-anchor="end">4.0</text><text x="97.7" y="21.9" text-anchor="end">4.2</text></g>
<text x="445.5" y="574.2" text-anchor="middle" font-family="'Liberation Serif', 'Times New Roman', serif" font-weight="bold" font-size="32.5">Capacity [Ah]</text>
<text transform="translate(30.5 269.7) rotate(-90)" text-anchor="middle" font-family="'Liberation Serif', 'Times New Roman', serif" font-weight="bold" font-size="32.5">Voltage [V]</text>
<g font-family="'Liberation Serif', 'Times New Roman', serif" font-weight="bold" font-size="23.6" fill="#000"><path d="M609.7 60.9H665.3" stroke="#000000" stroke-width="3.2" stroke-linecap="round"/><text x="738.8" y="68.9" text-anchor="end">- 30 °C</text><path d="M609.7 89.6H665.3" stroke="#dc0000" stroke-width="3.2" stroke-linecap="round"/><text x="738.8" y="97.6" text-anchor="end">- 20 °C</text><path d="M609.7 118.3H665.3" stroke="#0000f0" stroke-width="3.2" stroke-linecap="round"/><text x="738.8" y="126.3" text-anchor="end">- 10 °C</text><path d="M609.7 147.0H665.3" stroke="#e000e8" stroke-width="3.2" stroke-linecap="round"/><text x="736.8" y="155.0" text-anchor="end">0 °C</text><path d="M609.7 175.7H665.3" stroke="#2e7424" stroke-width="3.2" stroke-linecap="round"/><text x="736.8" y="183.7" text-anchor="end">10 °C</text><path d="M609.7 204.4H665.3" stroke="#00004a" stroke-width="3.2" stroke-linecap="round"/><text x="736.8" y="212.4" text-anchor="end">20 °C</text><path d="M609.7 233.1H665.3" stroke="#5800ff" stroke-width="3.2" stroke-linecap="round"/><text x="736.8" y="241.1" text-anchor="end">30 °C</text><path d="M609.7 261.8H665.3" stroke="#4e0058" stroke-width="3.2" stroke-linecap="round"/><text x="736.8" y="269.8" text-anchor="end">40 °C</text></g>
<text x="3.0" y="34.3" font-family="'Liberation Sans', Arial, sans-serif" font-weight="bold" font-size="41">A</text>
<clipPath id="clipB"><rect x="908.6" y="14.9" width="674.5" height="484.3"/></clipPath>
<path d="M908.6 464.6H1583.1M908.6 395.4H1583.1M908.6 326.2H1583.1M908.6 257.0H1583.1M908.6 187.9H1583.1M908.6 118.7H1583.1M908.6 49.5H1583.1" stroke="#c4c4c4" stroke-width="1" stroke-dasharray="12.65 8.43" stroke-dashoffset="6.32" fill="none"/>
<path d="M950.8 14.9V499.2M1035.1 14.9V499.2M1119.4 14.9V499.2M1203.7 14.9V499.2M1288.0 14.9V499.2M1372.3 14.9V499.2M1456.6 14.9V499.2M1540.9 14.9V499.2" stroke="#c4c4c4" stroke-width="1" stroke-dasharray="10.38 6.92" stroke-dashoffset="5.19" fill="none"/>
<path d="M908.6 430.0H1583.1M908.6 360.8H1583.1M908.6 291.6H1583.1M908.6 222.5H1583.1M908.6 153.3H1583.1M908.6 84.1H1583.1" stroke="#d2d2d2" stroke-width="1" stroke-dasharray="2 1.5" fill="none"/>
<path d="M992.9 14.9V499.2M1077.2 14.9V499.2M1161.5 14.9V499.2M1245.8 14.9V499.2M1330.2 14.9V499.2M1414.5 14.9V499.2M1498.8 14.9V499.2" stroke="#d2d2d2" stroke-width="1" stroke-dasharray="2 1.5" fill="none"/>
<rect x="1405" y="47" width="139" height="227" fill="#fff"/>
<g clip-path="url(#clipB)" fill="none" stroke-width="3.1" stroke-linejoin="round" stroke-linecap="round">
<path d="M910.3 319.3 L910.3 343.5 L912.3 344.4 L914.3 345.3 L916.2 346.3 L918.0 347.4 L919.7 348.5 L921.3 349.7 L922.9 350.9 L924.4 352.2 L925.8 353.5 L927.2 354.9 L928.5 356.4 L929.7 357.9 L930.9 359.4 L932.0 361.0 L933.1 362.6 L934.1 364.3 L935.1 366.0 L936.1 367.7 L937.0 369.5 L937.9 371.3 L938.8 373.1 L939.6 374.9 L940.4 376.8 L941.2 378.7 L942.0 380.6 L942.8 382.5 L943.6 384.4 L944.4 386.4 L945.2 388.3 L945.9 390.3 L946.7 392.3 L947.5 394.2 L948.4 396.2 L949.2 398.2 L950.0 400.1 L950.9 402.1 L951.8 404.0 L952.7 405.9 L953.7 407.8 L954.7 409.6 L955.7 411.4 L956.7 413.2 L957.8 414.9 L958.9 416.5 L960.1 418.2 L961.3 419.7 L962.5 421.2 L963.8 422.6 L965.1 423.9 L966.5 425.2 L967.9 426.3 L969.4 427.4 L970.9 428.4 L972.5 429.3 L974.2 430.1 L975.8 430.8 L977.6 431.4 L979.4 431.9 L981.2 432.3 L983.0 432.7 L984.9 433.0 L986.8 433.2 L988.8 433.3 L990.8 433.4 L992.8 433.4 L994.8 433.4 L996.8 433.3 L998.8 433.2 L1000.9 433.1 L1003.0 432.9 L1005.0 432.7 L1007.1 432.5 L1009.2 432.3 L1011.3 432.1 L1013.4 432.0 L1015.5 431.8 L1017.5 431.7 L1019.6 431.6 L1021.7 431.6 L1023.7 431.6 L1025.8 431.6 L1027.8 431.8 L1029.8 432.0 L1031.8 432.2 L1033.7 432.5 L1035.7 432.9 L1037.6 433.4 L1039.5 433.9 L1041.4 434.4 L1043.3 435.0 L1045.2 435.7 L1047.0 436.4 L1048.9 437.2 L1050.6 438.0 L1052.4 438.9 L1054.2 439.8 L1055.9 440.8 L1057.6 441.8 L1059.3 442.9 L1061.0 444.0 L1062.6 445.2 L1064.2 446.4 L1065.8 447.6 L1067.4 448.9 L1068.9 450.2 L1070.4 451.6 L1071.9 453.0 L1073.4 454.4 L1074.8 455.9 L1076.3 457.4 L1077.7 458.9 L1079.1 460.4 L1080.4 462.0 L1081.8 463.6 L1083.1 465.2 L1084.4 466.8 L1085.6 468.5 L1086.9 470.2 L1088.1 471.8 L1089.3 473.5 L1090.5 475.2 L1091.6 476.9 L1092.8 478.6 L1093.9 480.4 L1095.0 482.1 L1096.0 483.8 L1097.1 485.5 L1098.1 487.3 L1099.1 489.0 L1100.1 490.7 L1101.1 492.4 L1102.0 494.1 L1102.9 495.8 L1103.8 497.5 L1104.7 499.2" stroke="#000000"/>
<path d="M910.3 139.4 L910.3 208.6 L911.1 210.4 L911.9 212.1 L912.7 213.8 L913.5 215.6 L914.4 217.4 L915.2 219.1 L916.1 220.9 L916.9 222.7 L917.8 224.5 L918.6 226.3 L919.5 228.1 L920.4 229.9 L921.3 231.8 L922.2 233.6 L923.1 235.4 L924.0 237.2 L924.9 239.1 L925.9 240.9 L926.8 242.7 L927.8 244.6 L928.7 246.4 L929.7 248.2 L930.7 250.0 L931.6 251.8 L932.6 253.6 L933.6 255.5 L934.7 257.2 L935.7 259.0 L936.7 260.8 L937.8 262.6 L938.8 264.4 L939.9 266.1 L941.0 267.8 L942.1 269.6 L943.2 271.3 L944.3 273.0 L945.5 274.6 L946.7 276.3 L947.9 277.9 L949.1 279.5 L950.3 281.0 L951.6 282.6 L952.9 284.1 L954.2 285.5 L955.5 287.0 L956.9 288.4 L958.3 289.7 L959.7 291.0 L961.2 292.3 L962.7 293.5 L964.2 294.7 L965.8 295.9 L967.4 297.0 L969.0 298.0 L970.7 299.0 L972.4 300.0 L974.1 301.0 L975.9 301.9 L977.7 302.7 L979.5 303.6 L981.3 304.4 L983.1 305.1 L985.0 305.9 L986.9 306.6 L988.8 307.3 L990.7 308.0 L992.6 308.6 L994.5 309.2 L996.5 309.8 L998.4 310.4 L1000.4 311.0 L1002.4 311.6 L1004.3 312.1 L1006.3 312.7 L1008.3 313.2 L1010.3 313.7 L1012.2 314.2 L1014.2 314.8 L1016.2 315.3 L1018.1 315.8 L1020.1 316.3 L1022.1 316.8 L1024.0 317.3 L1026.0 317.8 L1027.9 318.3 L1029.9 318.8 L1031.8 319.3 L1033.8 319.8 L1035.7 320.3 L1037.7 320.8 L1039.6 321.3 L1041.5 321.8 L1043.5 322.4 L1045.4 322.9 L1047.3 323.4 L1049.3 323.9 L1051.2 324.4 L1053.1 325.0 L1055.0 325.5 L1057.0 326.1 L1058.9 326.6 L1060.8 327.2 L1062.7 327.7 L1064.7 328.3 L1066.6 328.9 L1068.5 329.5 L1070.4 330.1 L1072.3 330.7 L1074.2 331.3 L1076.1 331.9 L1078.1 332.5 L1080.0 333.2 L1081.9 333.8 L1083.8 334.5 L1085.7 335.2 L1087.6 335.9 L1089.5 336.6 L1091.4 337.3 L1093.3 338.0 L1095.2 338.7 L1097.1 339.5 L1099.0 340.2 L1100.9 341.0 L1102.8 341.8 L1104.7 342.6 L1106.5 343.4 L1108.4 344.2 L1110.3 345.0 L1112.1 345.9 L1114.0 346.7 L1115.8 347.6 L1117.7 348.5 L1119.5 349.4 L1121.3 350.3 L1123.2 351.2 L1125.0 352.1 L1126.8 353.1 L1128.6 354.0 L1130.3 355.0 L1132.1 356.0 L1133.9 357.0 L1135.6 358.0 L1137.4 359.0 L1139.1 360.1 L1140.9 361.1 L1142.6 362.2 L1144.3 363.3 L1146.0 364.4 L1147.7 365.5 L1149.3 366.6 L1151.0 367.8 L1152.6 368.9 L1154.3 370.1 L1155.9 371.3 L1157.5 372.5 L1159.1 373.7 L1160.7 374.9 L1162.2 376.2 L1163.8 377.5 L1165.3 378.7 L1166.8 380.0 L1168.3 381.3 L1169.8 382.7 L1171.3 384.0 L1172.8 385.4 L1174.2 386.7 L1175.6 388.1 L1177.0 389.6 L1178.4 391.0 L1179.8 392.4 L1181.1 393.9 L1182.4 395.4 L1183.8 396.9 L1185.1 398.4 L1186.3 399.9 L1187.6 401.4 L1188.8 403.0 L1190.0 404.6 L1191.2 406.2 L1192.4 407.8 L1193.5 409.4 L1194.7 411.1 L1195.8 412.8 L1196.9 414.5 L1197.9 416.2 L1199.0 417.9 L1200.0 419.6 L1201.0 421.4 L1202.0 423.1 L1202.9 424.9 L1203.9 426.7 L1204.8 428.5 L1205.7 430.4 L1206.6 432.2 L1207.5 434.0 L1208.3 435.9 L1209.2 437.8 L1210.0 439.6 L1210.8 441.5 L1211.6 443.4 L1212.3 445.3 L1213.1 447.2 L1213.8 449.2 L1214.6 451.1 L1215.3 453.0 L1216.0 454.9 L1216.7 456.9 L1217.4 458.8 L1218.0 460.7 L1218.7 462.7 L1219.3 464.6 L1220.0 466.6 L1220.6 468.5 L1221.2 470.5 L1221.8 472.4 L1222.4 474.4 L1223.0 476.3 L1223.6 478.2 L1224.1 480.2 L1224.7 482.1 L1225.3 484.0 L1225.8 485.9 L1226.3 487.9 L1226.9 489.8 L1227.4 491.7 L1227.9 493.6 L1228.5 495.4 L1229.0 497.3 L1229.5 499.2" stroke="#b01515"/>
<path d="M910.3 101.4 L910.3 149.8 L911.5 151.4 L912.7 152.9 L913.9 154.6 L915.0 156.2 L916.1 157.9 L917.2 159.6 L918.3 161.3 L919.3 163.1 L920.4 164.8 L921.4 166.6 L922.4 168.4 L923.4 170.1 L924.5 171.9 L925.5 173.7 L926.5 175.5 L927.5 177.2 L928.6 179.0 L929.6 180.7 L930.7 182.5 L931.8 184.2 L932.9 185.9 L934.1 187.5 L935.3 189.2 L936.5 190.8 L937.7 192.3 L939.0 193.9 L940.3 195.4 L941.6 196.9 L942.9 198.4 L944.3 199.8 L945.7 201.3 L947.1 202.7 L948.5 204.0 L950.0 205.4 L951.4 206.7 L952.9 208.1 L954.4 209.4 L955.9 210.6 L957.5 211.9 L959.0 213.1 L960.6 214.4 L962.2 215.6 L963.8 216.8 L965.4 218.0 L967.0 219.1 L968.7 220.3 L970.3 221.4 L971.9 222.5 L973.6 223.6 L975.3 224.7 L977.0 225.8 L978.6 226.9 L980.3 228.0 L982.0 229.0 L983.7 230.1 L985.4 231.1 L987.1 232.1 L988.8 233.1 L990.6 234.1 L992.3 235.1 L994.0 236.1 L995.8 237.1 L997.5 238.1 L999.3 239.0 L1001.0 240.0 L1002.8 240.9 L1004.5 241.8 L1006.3 242.8 L1008.1 243.7 L1009.9 244.6 L1011.6 245.5 L1013.4 246.4 L1015.2 247.3 L1017.0 248.1 L1018.8 249.0 L1020.6 249.9 L1022.4 250.7 L1024.3 251.6 L1026.1 252.4 L1027.9 253.2 L1029.7 254.1 L1031.5 254.9 L1033.4 255.7 L1035.2 256.5 L1037.1 257.3 L1038.9 258.1 L1040.7 258.9 L1042.6 259.7 L1044.4 260.5 L1046.3 261.2 L1048.2 262.0 L1050.0 262.8 L1051.9 263.5 L1053.7 264.3 L1055.6 265.0 L1057.5 265.8 L1059.3 266.5 L1061.2 267.3 L1063.1 268.0 L1065.0 268.8 L1066.9 269.5 L1068.7 270.2 L1070.6 270.9 L1072.5 271.7 L1074.4 272.4 L1076.3 273.1 L1078.2 273.8 L1080.1 274.5 L1082.0 275.2 L1083.9 275.9 L1085.8 276.6 L1087.7 277.3 L1089.5 278.0 L1091.4 278.7 L1093.3 279.4 L1095.2 280.1 L1097.1 280.8 L1099.0 281.5 L1100.9 282.2 L1102.8 282.9 L1104.7 283.6 L1106.6 284.3 L1108.5 285.0 L1110.4 285.7 L1112.4 286.4 L1114.3 287.1 L1116.2 287.8 L1118.1 288.5 L1120.0 289.2 L1121.9 289.8 L1123.8 290.5 L1125.7 291.2 L1127.6 291.9 L1129.5 292.6 L1131.4 293.3 L1133.3 294.0 L1135.1 294.7 L1137.0 295.4 L1138.9 296.1 L1140.8 296.8 L1142.7 297.5 L1144.6 298.3 L1146.5 299.0 L1148.4 299.7 L1150.3 300.4 L1152.2 301.1 L1154.1 301.8 L1156.0 302.5 L1157.8 303.3 L1159.7 304.0 L1161.6 304.7 L1163.5 305.4 L1165.4 306.2 L1167.2 306.9 L1169.1 307.7 L1171.0 308.4 L1172.9 309.1 L1174.7 309.9 L1176.6 310.6 L1178.5 311.4 L1180.3 312.2 L1182.2 312.9 L1184.0 313.7 L1185.9 314.5 L1187.8 315.2 L1189.6 316.0 L1191.5 316.8 L1193.3 317.6 L1195.2 318.4 L1197.0 319.2 L1198.8 320.0 L1200.7 320.8 L1202.5 321.6 L1204.3 322.4 L1206.2 323.2 L1208.0 324.0 L1209.8 324.9 L1211.6 325.7 L1213.5 326.5 L1215.3 327.4 L1217.1 328.2 L1218.9 329.1 L1220.7 329.9 L1222.5 330.8 L1224.3 331.7 L1226.1 332.6 L1227.9 333.5 L1229.7 334.4 L1231.4 335.3 L1233.2 336.2 L1235.0 337.1 L1236.8 338.0 L1238.5 338.9 L1240.3 339.8 L1242.1 340.8 L1243.8 341.7 L1245.6 342.7 L1247.3 343.7 L1249.1 344.6 L1250.8 345.6 L1252.5 346.6 L1254.3 347.6 L1256.0 348.6 L1257.7 349.6 L1259.4 350.6 L1261.2 351.6 L1262.9 352.7 L1264.6 353.7 L1266.3 354.7 L1268.0 355.8 L1269.6 356.9 L1271.3 357.9 L1273.0 359.0 L1274.7 360.1 L1276.3 361.2 L1278.0 362.3 L1279.7 363.4 L1281.3 364.6 L1283.0 365.7 L1284.6 366.9 L1286.2 368.0 L1287.9 369.2 L1289.5 370.4 L1291.1 371.5 L1292.7 372.7 L1294.3 374.0 L1295.9 375.2 L1297.5 376.4 L1299.1 377.6 L1300.7 378.9 L1302.3 380.1 L1303.8 381.4 L1305.4 382.7 L1306.9 384.0 L1308.5 385.3 L1310.0 386.6 L1311.5 387.9 L1313.0 389.3 L1314.5 390.6 L1316.0 392.0 L1317.4 393.4 L1318.9 394.7 L1320.3 396.1 L1321.8 397.6 L1323.2 399.0 L1324.6 400.4 L1326.0 401.9 L1327.3 403.3 L1328.7 404.8 L1330.1 406.3 L1331.4 407.8 L1332.7 409.3 L1334.0 410.8 L1335.3 412.4 L1336.6 413.9 L1337.8 415.5 L1339.0 417.1 L1340.3 418.7 L1341.5 420.3 L1342.6 421.9 L1343.8 423.5 L1344.9 425.2 L1346.1 426.8 L1347.2 428.5 L1348.3 430.2 L1349.3 431.9 L1350.4 433.7 L1351.4 435.4 L1352.4 437.1 L1353.4 438.9 L1354.4 440.7 L1355.3 442.5 L1356.3 444.2 L1357.2 446.0 L1358.2 447.9 L1359.1 449.7 L1360.0 451.5 L1360.8 453.3 L1361.7 455.2 L1362.6 457.0 L1363.5 458.8 L1364.3 460.7 L1365.1 462.5 L1366.0 464.4 L1366.8 466.2 L1367.6 468.1 L1368.4 470.0 L1369.3 471.8 L1370.1 473.7 L1370.9 475.5 L1371.7 477.4 L1372.5 479.2 L1373.3 481.1 L1374.1 482.9 L1374.9 484.7 L1375.7 486.6 L1376.5 488.4 L1377.3 490.2 L1378.1 492.0 L1379.0 493.8 L1379.8 495.6 L1380.6 497.4 L1381.4 499.2" stroke="#0000f0"/>
<path d="M910.3 94.5 L910.3 99.6 L910.8 101.6 L911.3 103.5 L911.9 105.5 L912.4 107.4 L913.0 109.3 L913.7 111.2 L914.3 113.1 L915.0 115.0 L915.7 116.9 L916.4 118.8 L917.2 120.7 L918.0 122.6 L918.8 124.4 L919.6 126.2 L920.4 128.1 L921.3 129.9 L922.2 131.7 L923.1 133.5 L924.1 135.3 L925.1 137.1 L926.1 138.8 L927.1 140.6 L928.1 142.3 L929.2 144.0 L930.3 145.7 L931.4 147.4 L932.5 149.0 L933.7 150.7 L934.8 152.3 L936.0 153.9 L937.2 155.5 L938.5 157.1 L939.7 158.6 L941.0 160.2 L942.3 161.7 L943.7 163.2 L945.0 164.7 L946.4 166.1 L947.7 167.5 L949.1 169.0 L950.6 170.3 L952.0 171.7 L953.5 173.0 L955.0 174.4 L956.5 175.7 L958.0 176.9 L959.5 178.2 L961.0 179.4 L962.6 180.7 L964.2 181.9 L965.8 183.1 L967.4 184.2 L969.0 185.4 L970.6 186.5 L972.3 187.7 L973.9 188.8 L975.6 189.9 L977.3 191.0 L979.0 192.0 L980.7 193.1 L982.4 194.2 L984.1 195.2 L985.8 196.2 L987.5 197.3 L989.3 198.3 L991.0 199.3 L992.7 200.3 L994.5 201.3 L996.2 202.3 L998.0 203.3 L999.7 204.3 L1001.5 205.3 L1003.3 206.2 L1005.0 207.2 L1006.8 208.2 L1008.6 209.2 L1010.3 210.2 L1012.1 211.1 L1013.8 212.1 L1015.6 213.1 L1017.4 214.1 L1019.1 215.1 L1020.9 216.0 L1022.6 217.0 L1024.4 218.0 L1026.1 219.0 L1027.9 220.0 L1029.6 220.9 L1031.4 221.9 L1033.1 222.9 L1034.9 223.9 L1036.6 224.9 L1038.4 225.8 L1040.1 226.8 L1041.9 227.8 L1043.6 228.7 L1045.4 229.7 L1047.1 230.7 L1048.9 231.6 L1050.6 232.6 L1052.4 233.5 L1054.2 234.5 L1055.9 235.4 L1057.7 236.3 L1059.5 237.3 L1061.2 238.2 L1063.0 239.1 L1064.8 240.0 L1066.6 240.9 L1068.4 241.8 L1070.1 242.7 L1071.9 243.6 L1073.7 244.5 L1075.5 245.3 L1077.3 246.2 L1079.1 247.0 L1081.0 247.9 L1082.8 248.7 L1084.6 249.6 L1086.4 250.4 L1088.3 251.2 L1090.1 252.0 L1091.9 252.8 L1093.8 253.6 L1095.6 254.4 L1097.5 255.2 L1099.3 256.0 L1101.2 256.7 L1103.0 257.5 L1104.9 258.3 L1106.7 259.0 L1108.6 259.8 L1110.5 260.5 L1112.3 261.3 L1114.2 262.0 L1116.1 262.7 L1118.0 263.5 L1119.8 264.2 L1121.7 264.9 L1123.6 265.7 L1125.5 266.4 L1127.3 267.1 L1129.2 267.8 L1131.1 268.5 L1133.0 269.2 L1134.9 270.0 L1136.7 270.7 L1138.6 271.4 L1140.5 272.1 L1142.4 272.8 L1144.3 273.5 L1146.1 274.2 L1148.0 274.9 L1149.9 275.6 L1151.8 276.4 L1153.7 277.1 L1155.5 277.8 L1157.4 278.5 L1159.3 279.2 L1161.1 279.9 L1163.0 280.6 L1164.9 281.4 L1166.7 282.1 L1168.6 282.8 L1170.5 283.6 L1172.3 284.3 L1174.2 285.0 L1176.0 285.7 L1177.9 286.5 L1179.7 287.2 L1181.6 288.0 L1183.4 288.7 L1185.3 289.4 L1187.1 290.2 L1189.0 290.9 L1190.8 291.7 L1192.7 292.4 L1194.5 293.2 L1196.4 293.9 L1198.2 294.7 L1200.1 295.4 L1201.9 296.2 L1203.8 296.9 L1205.6 297.7 L1207.4 298.4 L1209.3 299.2 L1211.1 300.0 L1213.0 300.7 L1214.8 301.5 L1216.6 302.2 L1218.5 303.0 L1220.3 303.8 L1222.2 304.5 L1224.0 305.3 L1225.8 306.0 L1227.7 306.8 L1229.5 307.6 L1231.4 308.3 L1233.2 309.1 L1235.1 309.9 L1236.9 310.6 L1238.8 311.4 L1240.6 312.2 L1242.4 312.9 L1244.3 313.7 L1246.1 314.4 L1248.0 315.2 L1249.8 316.0 L1251.7 316.7 L1253.6 317.5 L1255.4 318.3 L1257.3 319.0 L1259.1 319.8 L1261.0 320.5 L1262.8 321.3 L1264.7 322.1 L1266.6 322.8 L1268.4 323.6 L1270.3 324.3 L1272.2 325.1 L1274.0 325.8 L1275.9 326.6 L1277.8 327.3 L1279.7 328.1 L1281.6 328.8 L1283.4 329.6 L1285.3 330.3 L1287.2 331.1 L1289.1 331.8 L1291.0 332.6 L1292.9 333.3 L1294.8 334.1 L1296.7 334.8 L1298.6 335.5 L1300.5 336.3 L1302.4 337.0 L1304.3 337.8 L1306.2 338.5 L1308.1 339.3 L1310.0 340.0 L1311.9 340.8 L1313.8 341.5 L1315.7 342.3 L1317.6 343.0 L1319.5 343.8 L1321.3 344.6 L1323.2 345.4 L1325.1 346.1 L1327.0 346.9 L1328.8 347.7 L1330.7 348.5 L1332.6 349.4 L1334.4 350.2 L1336.3 351.0 L1338.1 351.8 L1339.9 352.7 L1341.8 353.5 L1343.6 354.4 L1345.4 355.3 L1347.2 356.2 L1349.0 357.1 L1350.8 358.0 L1352.5 358.9 L1354.3 359.8 L1356.0 360.8 L1357.8 361.8 L1359.5 362.7 L1361.2 363.7 L1362.9 364.7 L1364.6 365.8 L1366.3 366.8 L1368.0 367.8 L1369.6 368.9 L1371.3 370.0 L1372.9 371.1 L1374.5 372.2 L1376.1 373.4 L1377.7 374.5 L1379.2 375.7 L1380.8 376.9 L1382.3 378.1 L1383.8 379.3 L1385.3 380.6 L1386.8 381.9 L1388.3 383.2 L1389.7 384.5 L1391.2 385.8 L1392.6 387.2 L1394.0 388.6 L1395.3 390.0 L1396.7 391.4 L1398.0 392.9 L1399.3 394.4 L1400.6 395.8 L1401.9 397.4 L1403.1 398.9 L1404.4 400.5 L1405.6 402.0 L1406.8 403.6 L1408.0 405.2 L1409.1 406.9 L1410.3 408.5 L1411.4 410.2 L1412.5 411.8 L1413.6 413.5 L1414.7 415.2 L1415.8 417.0 L1416.8 418.7 L1417.8 420.4 L1418.8 422.2 L1419.8 424.0 L1420.8 425.7 L1421.8 427.5 L1422.7 429.3 L1423.7 431.2 L1424.6 433.0 L1425.5 434.8 L1426.4 436.7 L1427.3 438.5 L1428.1 440.4 L1429.0 442.2 L1429.8 444.1 L1430.6 446.0 L1431.4 447.9 L1432.2 449.8 L1433.0 451.7 L1433.7 453.6 L1434.5 455.5 L1435.2 457.4 L1435.9 459.3 L1436.6 461.2 L1437.3 463.1 L1438.0 465.0 L1438.7 466.9 L1439.3 468.9 L1439.9 470.8 L1440.6 472.7 L1441.2 474.6 L1441.8 476.5 L1442.4 478.4 L1443.0 480.3 L1443.6 482.2 L1444.1 484.2 L1444.7 486.0 L1445.2 487.9 L1445.7 489.8 L1446.2 491.7 L1446.8 493.6 L1447.2 495.5 L1447.7 497.3 L1448.2 499.2" stroke="#e000e8"/>
<path d="M910.3 84.1 L910.3 95.8 L911.4 97.5 L912.6 99.2 L913.8 100.9 L915.0 102.6 L916.2 104.2 L917.4 105.8 L918.6 107.4 L919.9 109.0 L921.1 110.6 L922.4 112.2 L923.7 113.7 L925.0 115.2 L926.3 116.7 L927.7 118.2 L929.0 119.7 L930.4 121.2 L931.7 122.7 L933.1 124.1 L934.5 125.6 L935.9 127.0 L937.3 128.4 L938.8 129.8 L940.2 131.2 L941.6 132.5 L943.1 133.9 L944.6 135.2 L946.1 136.6 L947.6 137.9 L949.1 139.2 L950.6 140.5 L952.1 141.8 L953.6 143.0 L955.2 144.3 L956.7 145.6 L958.3 146.8 L959.9 148.0 L961.4 149.3 L963.0 150.5 L964.6 151.7 L966.2 152.9 L967.8 154.1 L969.4 155.2 L971.1 156.4 L972.7 157.6 L974.4 158.7 L976.0 159.9 L977.7 161.0 L979.3 162.1 L981.0 163.2 L982.7 164.3 L984.3 165.4 L986.0 166.5 L987.7 167.6 L989.4 168.7 L991.1 169.8 L992.8 170.8 L994.5 171.9 L996.3 173.0 L998.0 174.0 L999.7 175.0 L1001.4 176.1 L1003.2 177.1 L1004.9 178.1 L1006.6 179.2 L1008.4 180.2 L1010.1 181.2 L1011.9 182.2 L1013.6 183.2 L1015.4 184.2 L1017.2 185.2 L1018.9 186.2 L1020.7 187.2 L1022.5 188.1 L1024.2 189.1 L1026.0 190.1 L1027.8 191.1 L1029.5 192.0 L1031.3 193.0 L1033.1 194.0 L1034.9 194.9 L1036.6 195.9 L1038.4 196.9 L1040.2 197.8 L1042.0 198.8 L1043.7 199.7 L1045.5 200.7 L1047.3 201.6 L1049.1 202.6 L1050.8 203.5 L1052.6 204.5 L1054.4 205.4 L1056.2 206.4 L1058.0 207.3 L1059.7 208.2 L1061.5 209.2 L1063.3 210.1 L1065.1 211.0 L1066.9 212.0 L1068.6 212.9 L1070.4 213.8 L1072.2 214.7 L1074.0 215.6 L1075.8 216.6 L1077.6 217.5 L1079.4 218.4 L1081.1 219.3 L1082.9 220.2 L1084.7 221.1 L1086.5 222.0 L1088.3 222.9 L1090.1 223.8 L1091.9 224.7 L1093.7 225.6 L1095.5 226.5 L1097.3 227.3 L1099.1 228.2 L1100.9 229.1 L1102.7 230.0 L1104.5 230.9 L1106.3 231.7 L1108.1 232.6 L1109.9 233.5 L1111.7 234.3 L1113.5 235.2 L1115.3 236.1 L1117.1 236.9 L1118.9 237.8 L1120.7 238.6 L1122.5 239.5 L1124.4 240.3 L1126.2 241.1 L1128.0 242.0 L1129.8 242.8 L1131.6 243.7 L1133.4 244.5 L1135.3 245.3 L1137.1 246.1 L1138.9 247.0 L1140.7 247.8 L1142.6 248.6 L1144.4 249.4 L1146.2 250.2 L1148.0 251.0 L1149.9 251.8 L1151.7 252.6 L1153.5 253.4 L1155.4 254.2 L1157.2 255.0 L1159.1 255.8 L1160.9 256.6 L1162.7 257.3 L1164.6 258.1 L1166.4 258.9 L1168.3 259.7 L1170.1 260.4 L1172.0 261.2 L1173.8 262.0 L1175.7 262.7 L1177.5 263.5 L1179.4 264.2 L1181.3 265.0 L1183.1 265.7 L1185.0 266.4 L1186.8 267.2 L1188.7 267.9 L1190.6 268.6 L1192.4 269.4 L1194.3 270.1 L1196.2 270.8 L1198.1 271.5 L1199.9 272.2 L1201.8 272.9 L1203.7 273.6 L1205.6 274.3 L1207.5 275.0 L1209.4 275.7 L1211.2 276.4 L1213.1 277.1 L1215.0 277.8 L1216.9 278.5 L1218.8 279.1 L1220.7 279.8 L1222.6 280.5 L1224.5 281.1 L1226.4 281.8 L1228.3 282.4 L1230.2 283.1 L1232.2 283.7 L1234.1 284.4 L1236.0 285.0 L1237.9 285.6 L1239.8 286.3 L1241.8 286.9 L1243.7 287.5 L1245.6 288.1 L1247.5 288.7 L1249.5 289.3 L1251.4 290.0 L1253.3 290.6 L1255.3 291.2 L1257.2 291.7 L1259.2 292.3 L1261.1 292.9 L1263.1 293.5 L1265.0 294.1 L1266.9 294.7 L1268.9 295.3 L1270.8 295.8 L1272.8 296.4 L1274.7 297.0 L1276.7 297.6 L1278.6 298.2 L1280.6 298.7 L1282.5 299.3 L1284.5 299.9 L1286.4 300.5 L1288.4 301.0 L1290.4 301.6 L1292.3 302.2 L1294.3 302.8 L1296.2 303.3 L1298.1 303.9 L1300.1 304.5 L1302.0 305.1 L1304.0 305.7 L1305.9 306.3 L1307.9 306.9 L1309.8 307.5 L1311.7 308.1 L1313.7 308.7 L1315.6 309.3 L1317.6 309.9 L1319.5 310.5 L1321.4 311.1 L1323.3 311.7 L1325.3 312.4 L1327.2 313.0 L1329.1 313.6 L1331.0 314.3 L1332.9 314.9 L1334.8 315.6 L1336.7 316.2 L1338.6 316.9 L1340.5 317.6 L1342.4 318.2 L1344.3 318.9 L1346.2 319.6 L1348.1 320.3 L1350.0 321.0 L1351.8 321.7 L1353.7 322.5 L1355.6 323.2 L1357.4 323.9 L1359.3 324.7 L1361.1 325.4 L1363.0 326.2 L1364.8 327.0 L1366.6 327.7 L1368.5 328.5 L1370.3 329.3 L1372.1 330.1 L1373.9 331.0 L1375.7 331.8 L1377.5 332.6 L1379.3 333.5 L1381.1 334.4 L1382.9 335.2 L1384.7 336.1 L1386.4 337.0 L1388.2 337.9 L1389.9 338.9 L1391.7 339.8 L1393.4 340.8 L1395.2 341.7 L1396.9 342.7 L1398.6 343.7 L1400.3 344.7 L1402.0 345.7 L1403.7 346.7 L1405.4 347.8 L1407.1 348.8 L1408.7 349.9 L1410.4 351.0 L1412.0 352.1 L1413.7 353.2 L1415.3 354.4 L1416.9 355.5 L1418.6 356.7 L1420.2 357.9 L1421.8 359.1 L1423.3 360.3 L1424.9 361.5 L1426.5 362.8 L1428.0 364.0 L1429.6 365.3 L1431.1 366.6 L1432.7 367.9 L1434.2 369.3 L1435.6 370.6 L1437.1 372.0 L1438.6 373.4 L1440.0 374.8 L1441.4 376.3 L1442.8 377.7 L1444.1 379.2 L1445.5 380.7 L1446.7 382.2 L1448.0 383.8 L1449.2 385.3 L1450.4 386.9 L1451.6 388.5 L1452.7 390.2 L1453.8 391.8 L1454.9 393.5 L1455.9 395.2 L1456.8 396.9 L1457.7 398.7 L1458.6 400.4 L1459.5 402.2 L1460.3 404.1 L1461.0 405.9 L1461.7 407.7 L1462.4 409.6 L1463.1 411.5 L1463.7 413.4 L1464.3 415.3 L1464.9 417.3 L1465.4 419.2 L1466.0 421.2 L1466.4 423.2 L1466.9 425.2 L1467.4 427.2 L1467.8 429.2 L1468.2 431.2 L1468.6 433.2 L1468.9 435.3 L1469.3 437.3 L1469.6 439.3 L1469.9 441.4 L1470.3 443.4 L1470.6 445.5 L1470.9 447.6 L1471.1 449.6 L1471.4 451.7 L1471.7 453.8 L1472.0 455.8 L1472.2 457.9 L1472.5 459.9 L1472.7 462.0 L1473.0 464.0 L1473.3 466.1 L1473.5 468.1 L1473.8 470.1 L1474.1 472.2 L1474.4 474.2 L1474.7 476.2 L1475.0 478.2 L1475.3 480.2 L1475.6 482.1 L1476.0 484.1 L1476.3 486.0 L1476.7 488.0 L1477.1 489.9 L1477.5 491.8 L1478.0 493.7 L1478.4 495.5 L1478.9 497.4 L1479.4 499.2" stroke="#2e7424"/>
<path d="M910.3 42.6 L910.3 63.3 L910.9 65.3 L911.6 67.2 L912.4 69.1 L913.2 71.0 L914.1 72.8 L915.0 74.6 L915.9 76.3 L916.9 78.1 L918.0 79.7 L919.0 81.4 L920.2 83.0 L921.3 84.6 L922.5 86.2 L923.7 87.8 L925.0 89.3 L926.3 90.8 L927.6 92.3 L928.9 93.7 L930.3 95.2 L931.7 96.6 L933.1 98.0 L934.5 99.3 L936.0 100.7 L937.5 102.0 L939.0 103.4 L940.5 104.7 L942.0 106.0 L943.6 107.3 L945.1 108.6 L946.7 109.8 L948.2 111.1 L949.8 112.4 L951.4 113.6 L953.0 114.8 L954.5 116.1 L956.1 117.3 L957.7 118.5 L959.3 119.7 L960.9 121.0 L962.5 122.2 L964.1 123.4 L965.8 124.6 L967.4 125.8 L969.0 126.9 L970.6 128.1 L972.2 129.3 L973.9 130.5 L975.5 131.6 L977.1 132.8 L978.8 133.9 L980.4 135.1 L982.1 136.2 L983.7 137.4 L985.4 138.5 L987.0 139.6 L988.7 140.7 L990.3 141.9 L992.0 143.0 L993.7 144.1 L995.4 145.2 L997.0 146.3 L998.7 147.4 L1000.4 148.5 L1002.1 149.6 L1003.7 150.7 L1005.4 151.7 L1007.1 152.8 L1008.8 153.9 L1010.5 155.0 L1012.2 156.0 L1013.9 157.1 L1015.6 158.1 L1017.3 159.2 L1019.0 160.2 L1020.7 161.3 L1022.4 162.3 L1024.1 163.4 L1025.9 164.4 L1027.6 165.4 L1029.3 166.5 L1031.0 167.5 L1032.7 168.5 L1034.5 169.6 L1036.2 170.6 L1037.9 171.6 L1039.7 172.6 L1041.4 173.6 L1043.1 174.6 L1044.9 175.6 L1046.6 176.6 L1048.3 177.6 L1050.1 178.6 L1051.8 179.6 L1053.6 180.6 L1055.3 181.6 L1057.1 182.6 L1058.8 183.6 L1060.5 184.6 L1062.3 185.6 L1064.0 186.6 L1065.8 187.5 L1067.6 188.5 L1069.3 189.5 L1071.1 190.5 L1072.8 191.4 L1074.6 192.4 L1076.3 193.4 L1078.1 194.4 L1079.9 195.3 L1081.6 196.3 L1083.4 197.3 L1085.1 198.2 L1086.9 199.2 L1088.7 200.2 L1090.4 201.1 L1092.2 202.1 L1094.0 203.0 L1095.7 204.0 L1097.5 204.9 L1099.3 205.9 L1101.1 206.8 L1102.8 207.8 L1104.6 208.7 L1106.4 209.7 L1108.2 210.6 L1109.9 211.5 L1111.7 212.5 L1113.5 213.4 L1115.3 214.3 L1117.1 215.2 L1118.9 216.2 L1120.6 217.1 L1122.4 218.0 L1124.2 218.9 L1126.0 219.8 L1127.8 220.7 L1129.6 221.6 L1131.4 222.5 L1133.2 223.4 L1135.0 224.3 L1136.8 225.2 L1138.6 226.0 L1140.4 226.9 L1142.2 227.8 L1144.0 228.7 L1145.8 229.5 L1147.6 230.4 L1149.4 231.2 L1151.3 232.1 L1153.1 232.9 L1154.9 233.8 L1156.7 234.6 L1158.5 235.4 L1160.3 236.2 L1162.2 237.1 L1164.0 237.9 L1165.8 238.7 L1167.7 239.5 L1169.5 240.3 L1171.3 241.1 L1173.2 241.9 L1175.0 242.7 L1176.8 243.4 L1178.7 244.2 L1180.5 245.0 L1182.4 245.7 L1184.2 246.5 L1186.1 247.2 L1187.9 248.0 L1189.8 248.7 L1191.6 249.4 L1193.5 250.1 L1195.4 250.8 L1197.2 251.6 L1199.1 252.3 L1201.0 252.9 L1202.8 253.6 L1204.7 254.3 L1206.6 255.0 L1208.5 255.6 L1210.3 256.3 L1212.2 257.0 L1214.1 257.6 L1216.0 258.2 L1217.9 258.9 L1219.8 259.5 L1221.7 260.1 L1223.6 260.7 L1225.5 261.3 L1227.4 261.9 L1229.3 262.5 L1231.2 263.1 L1233.1 263.7 L1235.0 264.3 L1236.9 264.9 L1238.8 265.5 L1240.7 266.0 L1242.6 266.6 L1244.5 267.2 L1246.5 267.7 L1248.4 268.3 L1250.3 268.8 L1252.2 269.4 L1254.2 269.9 L1256.1 270.5 L1258.0 271.0 L1259.9 271.5 L1261.9 272.1 L1263.8 272.6 L1265.7 273.1 L1267.7 273.6 L1269.6 274.2 L1271.5 274.7 L1273.5 275.2 L1275.4 275.7 L1277.4 276.2 L1279.3 276.7 L1281.2 277.2 L1283.2 277.8 L1285.1 278.3 L1287.1 278.8 L1289.0 279.3 L1291.0 279.8 L1292.9 280.3 L1294.9 280.8 L1296.8 281.3 L1298.8 281.8 L1300.7 282.3 L1302.7 282.8 L1304.6 283.3 L1306.6 283.8 L1308.5 284.3 L1310.5 284.8 L1312.5 285.3 L1314.4 285.8 L1316.4 286.3 L1318.3 286.8 L1320.3 287.3 L1322.3 287.8 L1324.2 288.4 L1326.2 288.9 L1328.1 289.4 L1330.1 289.9 L1332.1 290.4 L1334.0 290.9 L1336.0 291.5 L1337.9 292.0 L1339.9 292.5 L1341.9 293.1 L1343.8 293.6 L1345.8 294.1 L1347.7 294.7 L1349.7 295.2 L1351.6 295.8 L1353.6 296.4 L1355.5 296.9 L1357.5 297.5 L1359.4 298.1 L1361.3 298.7 L1363.3 299.3 L1365.2 299.9 L1367.1 300.5 L1369.0 301.2 L1371.0 301.8 L1372.9 302.5 L1374.8 303.1 L1376.7 303.8 L1378.6 304.5 L1380.4 305.2 L1382.3 305.9 L1384.2 306.6 L1386.1 307.3 L1387.9 308.1 L1389.8 308.8 L1391.6 309.6 L1393.5 310.4 L1395.3 311.2 L1397.1 312.0 L1398.9 312.8 L1400.7 313.6 L1402.5 314.5 L1404.3 315.4 L1406.1 316.3 L1407.9 317.2 L1409.6 318.1 L1411.4 319.0 L1413.1 320.0 L1414.8 321.0 L1416.5 322.0 L1418.2 323.0 L1419.9 324.0 L1421.6 325.1 L1423.3 326.2 L1424.9 327.3 L1426.6 328.4 L1428.2 329.5 L1429.8 330.7 L1431.4 331.9 L1433.0 333.1 L1434.6 334.3 L1436.2 335.5 L1437.7 336.8 L1439.2 338.1 L1440.7 339.4 L1442.2 340.7 L1443.7 342.1 L1445.1 343.5 L1446.6 344.8 L1448.0 346.3 L1449.4 347.7 L1450.7 349.1 L1452.1 350.6 L1453.4 352.1 L1454.7 353.6 L1456.0 355.1 L1457.2 356.7 L1458.5 358.2 L1459.7 359.8 L1460.8 361.4 L1462.0 363.0 L1463.1 364.6 L1464.2 366.3 L1465.3 368.0 L1466.3 369.7 L1467.3 371.4 L1468.3 373.1 L1469.3 374.8 L1470.2 376.6 L1471.1 378.3 L1472.0 380.1 L1472.8 381.9 L1473.7 383.7 L1474.5 385.6 L1475.3 387.4 L1476.1 389.2 L1476.8 391.1 L1477.5 393.0 L1478.2 394.8 L1478.9 396.7 L1479.6 398.6 L1480.3 400.5 L1480.9 402.5 L1481.5 404.4 L1482.1 406.3 L1482.7 408.3 L1483.3 410.2 L1483.8 412.2 L1484.3 414.1 L1484.9 416.1 L1485.4 418.1 L1485.9 420.0 L1486.4 422.0 L1486.8 424.0 L1487.3 426.0 L1487.7 428.0 L1488.2 430.0 L1488.6 431.9 L1489.0 433.9 L1489.5 435.9 L1489.9 437.9 L1490.3 439.9 L1490.7 441.9 L1491.0 443.9 L1491.4 445.9 L1491.8 447.9 L1492.2 449.8 L1492.5 451.8 L1492.9 453.8 L1493.2 455.8 L1493.6 457.8 L1493.9 459.7 L1494.2 461.7 L1494.5 463.7 L1494.8 465.7 L1495.1 467.6 L1495.4 469.6 L1495.7 471.6 L1496.0 473.6 L1496.3 475.5 L1496.5 477.5 L1496.8 479.5 L1497.0 481.4 L1497.3 483.4 L1497.5 485.4 L1497.7 487.4 L1497.9 489.3 L1498.1 491.3 L1498.3 493.3 L1498.5 495.2 L1498.6 497.2 L1498.8 499.2" stroke="#00004a"/>
<path d="M910.3 49.5 L910.2 73.7 L910.8 75.7 L911.4 77.6 L912.0 79.5 L912.7 81.3 L913.5 83.1 L914.3 84.9 L915.2 86.6 L916.1 88.4 L917.1 90.1 L918.1 91.7 L919.1 93.3 L920.3 95.0 L921.4 96.5 L922.6 98.1 L923.8 99.6 L925.1 101.1 L926.4 102.6 L927.7 104.1 L929.1 105.5 L930.5 106.9 L931.9 108.3 L933.3 109.7 L934.8 111.1 L936.3 112.5 L937.8 113.8 L939.3 115.1 L940.9 116.4 L942.5 117.7 L944.0 119.0 L945.6 120.3 L947.2 121.6 L948.8 122.8 L950.4 124.1 L952.0 125.3 L953.6 126.5 L955.2 127.8 L956.8 129.0 L958.5 130.2 L960.1 131.4 L961.7 132.6 L963.4 133.8 L965.0 135.0 L966.6 136.2 L968.3 137.4 L969.9 138.5 L971.5 139.7 L973.2 140.9 L974.8 142.0 L976.5 143.2 L978.2 144.3 L979.8 145.4 L981.5 146.6 L983.1 147.7 L984.8 148.8 L986.5 149.9 L988.2 151.0 L989.8 152.1 L991.5 153.2 L993.2 154.3 L994.9 155.4 L996.6 156.5 L998.3 157.6 L1000.0 158.6 L1001.7 159.7 L1003.4 160.8 L1005.1 161.8 L1006.8 162.9 L1008.5 163.9 L1010.2 165.0 L1011.9 166.0 L1013.6 167.0 L1015.3 168.1 L1017.0 169.1 L1018.7 170.1 L1020.5 171.1 L1022.2 172.1 L1023.9 173.1 L1025.6 174.2 L1027.4 175.2 L1029.1 176.2 L1030.8 177.1 L1032.6 178.1 L1034.3 179.1 L1036.1 180.1 L1037.8 181.1 L1039.5 182.1 L1041.3 183.0 L1043.0 184.0 L1044.8 185.0 L1046.5 185.9 L1048.3 186.9 L1050.0 187.9 L1051.8 188.8 L1053.6 189.8 L1055.3 190.7 L1057.1 191.7 L1058.9 192.6 L1060.6 193.6 L1062.4 194.5 L1064.2 195.5 L1065.9 196.4 L1067.7 197.3 L1069.5 198.3 L1071.2 199.2 L1073.0 200.1 L1074.8 201.1 L1076.6 202.0 L1078.4 202.9 L1080.1 203.8 L1081.9 204.7 L1083.7 205.7 L1085.5 206.6 L1087.3 207.5 L1089.1 208.4 L1090.9 209.3 L1092.7 210.2 L1094.4 211.1 L1096.2 212.0 L1098.0 212.9 L1099.8 213.8 L1101.6 214.7 L1103.4 215.6 L1105.2 216.5 L1107.0 217.4 L1108.8 218.3 L1110.7 219.2 L1112.5 220.1 L1114.3 220.9 L1116.1 221.8 L1117.9 222.7 L1119.7 223.5 L1121.5 224.4 L1123.3 225.3 L1125.2 226.1 L1127.0 227.0 L1128.8 227.8 L1130.6 228.7 L1132.4 229.5 L1134.3 230.3 L1136.1 231.2 L1137.9 232.0 L1139.8 232.8 L1141.6 233.6 L1143.4 234.5 L1145.3 235.3 L1147.1 236.1 L1148.9 236.9 L1150.8 237.7 L1152.6 238.5 L1154.5 239.3 L1156.3 240.1 L1158.2 240.8 L1160.0 241.6 L1161.9 242.4 L1163.7 243.1 L1165.6 243.9 L1167.4 244.7 L1169.3 245.4 L1171.2 246.1 L1173.0 246.9 L1174.9 247.6 L1176.7 248.3 L1178.6 249.1 L1180.5 249.8 L1182.4 250.5 L1184.2 251.2 L1186.1 251.9 L1188.0 252.6 L1189.9 253.3 L1191.7 253.9 L1193.6 254.6 L1195.5 255.3 L1197.4 255.9 L1199.3 256.6 L1201.2 257.2 L1203.1 257.9 L1205.0 258.5 L1206.8 259.1 L1208.7 259.8 L1210.6 260.4 L1212.5 261.0 L1214.4 261.6 L1216.4 262.2 L1218.3 262.8 L1220.2 263.4 L1222.1 263.9 L1224.0 264.5 L1225.9 265.1 L1227.8 265.7 L1229.7 266.2 L1231.7 266.8 L1233.6 267.3 L1235.5 267.9 L1237.4 268.4 L1239.3 268.9 L1241.3 269.5 L1243.2 270.0 L1245.1 270.5 L1247.0 271.1 L1249.0 271.6 L1250.9 272.1 L1252.8 272.6 L1254.8 273.1 L1256.7 273.6 L1258.6 274.1 L1260.6 274.6 L1262.5 275.1 L1264.5 275.6 L1266.4 276.1 L1268.3 276.6 L1270.3 277.1 L1272.2 277.6 L1274.2 278.1 L1276.1 278.6 L1278.1 279.1 L1280.0 279.5 L1281.9 280.0 L1283.9 280.5 L1285.8 281.0 L1287.8 281.5 L1289.7 282.0 L1291.7 282.4 L1293.6 282.9 L1295.6 283.4 L1297.6 283.9 L1299.5 284.4 L1301.5 284.8 L1303.4 285.3 L1305.4 285.8 L1307.3 286.3 L1309.3 286.8 L1311.2 287.3 L1313.2 287.7 L1315.1 288.2 L1317.1 288.7 L1319.1 289.2 L1321.0 289.7 L1323.0 290.2 L1324.9 290.7 L1326.9 291.2 L1328.8 291.7 L1330.8 292.2 L1332.8 292.7 L1334.7 293.2 L1336.7 293.8 L1338.6 294.3 L1340.6 294.8 L1342.5 295.3 L1344.5 295.9 L1346.4 296.4 L1348.4 296.9 L1350.3 297.5 L1352.3 298.1 L1354.2 298.6 L1356.2 299.2 L1358.1 299.8 L1360.0 300.4 L1362.0 300.9 L1363.9 301.5 L1365.8 302.2 L1367.7 302.8 L1369.6 303.4 L1371.5 304.0 L1373.5 304.7 L1375.4 305.3 L1377.2 306.0 L1379.1 306.7 L1381.0 307.4 L1382.9 308.1 L1384.8 308.8 L1386.6 309.5 L1388.5 310.3 L1390.4 311.0 L1392.2 311.8 L1394.0 312.6 L1395.9 313.4 L1397.7 314.2 L1399.5 315.0 L1401.3 315.8 L1403.1 316.7 L1404.9 317.6 L1406.7 318.5 L1408.5 319.4 L1410.3 320.3 L1412.0 321.2 L1413.8 322.2 L1415.5 323.1 L1417.2 324.1 L1419.0 325.1 L1420.7 326.2 L1422.4 327.2 L1424.0 328.3 L1425.7 329.4 L1427.4 330.5 L1429.0 331.6 L1430.7 332.7 L1432.3 333.9 L1433.9 335.1 L1435.5 336.3 L1437.1 337.5 L1438.7 338.8 L1440.2 340.0 L1441.8 341.3 L1443.3 342.6 L1444.8 344.0 L1446.2 345.3 L1447.7 346.7 L1449.1 348.1 L1450.5 349.5 L1451.9 350.9 L1453.3 352.4 L1454.6 353.9 L1455.9 355.4 L1457.2 356.9 L1458.5 358.4 L1459.7 360.0 L1460.9 361.6 L1462.0 363.2 L1463.2 364.8 L1464.3 366.4 L1465.4 368.1 L1466.4 369.8 L1467.4 371.5 L1468.4 373.2 L1469.4 374.9 L1470.3 376.7 L1471.2 378.4 L1472.0 380.2 L1472.9 382.0 L1473.7 383.8 L1474.5 385.7 L1475.3 387.5 L1476.0 389.4 L1476.8 391.2 L1477.5 393.1 L1478.2 395.0 L1478.8 396.9 L1479.5 398.8 L1480.1 400.8 L1480.7 402.7 L1481.3 404.6 L1481.9 406.6 L1482.5 408.5 L1483.0 410.5 L1483.6 412.5 L1484.1 414.4 L1484.6 416.4 L1485.1 418.4 L1485.6 420.4 L1486.1 422.3 L1486.6 424.3 L1487.1 426.3 L1487.5 428.3 L1488.0 430.3 L1488.4 432.3 L1488.9 434.2 L1489.3 436.2 L1489.8 438.2 L1490.2 440.2 L1490.6 442.1 L1491.1 444.1 L1491.5 446.1 L1491.9 448.0 L1492.4 450.0 L1492.8 451.9 L1493.2 453.9 L1493.6 455.8 L1494.0 457.8 L1494.5 459.7 L1494.9 461.6 L1495.2 463.6 L1495.6 465.5 L1496.0 467.5 L1496.3 469.4 L1496.7 471.4 L1497.0 473.3 L1497.3 475.3 L1497.6 477.2 L1497.9 479.2 L1498.2 481.2 L1498.5 483.1 L1498.7 485.1 L1498.9 487.1 L1499.1 489.1 L1499.3 491.1 L1499.5 493.1 L1499.6 495.1 L1499.7 497.2 L1499.8 499.2" stroke="#5800ff"/>
<path d="M910.3 30.5 L910.3 56.4 L911.4 58.1 L912.6 59.8 L913.8 61.4 L915.1 63.0 L916.4 64.5 L917.7 66.0 L919.1 67.5 L920.5 68.9 L921.9 70.3 L923.3 71.6 L924.8 72.9 L926.3 74.2 L927.8 75.5 L929.3 76.7 L930.9 78.0 L932.5 79.2 L934.1 80.3 L935.7 81.5 L937.3 82.7 L938.9 83.8 L940.5 84.9 L942.2 86.0 L943.8 87.2 L945.5 88.3 L947.2 89.4 L948.8 90.5 L950.5 91.6 L952.2 92.7 L953.8 93.8 L955.5 94.9 L957.1 96.1 L958.8 97.2 L960.5 98.3 L962.1 99.4 L963.8 100.6 L965.4 101.7 L967.1 102.8 L968.8 104.0 L970.4 105.1 L972.1 106.3 L973.7 107.4 L975.4 108.6 L977.0 109.7 L978.7 110.9 L980.4 112.0 L982.0 113.2 L983.7 114.3 L985.3 115.5 L987.0 116.6 L988.6 117.8 L990.3 119.0 L992.0 120.1 L993.6 121.3 L995.3 122.4 L996.9 123.6 L998.6 124.7 L1000.2 125.9 L1001.9 127.1 L1003.6 128.2 L1005.2 129.4 L1006.9 130.5 L1008.5 131.7 L1010.2 132.8 L1011.9 134.0 L1013.5 135.2 L1015.2 136.3 L1016.9 137.5 L1018.5 138.6 L1020.2 139.7 L1021.9 140.9 L1023.5 142.0 L1025.2 143.2 L1026.9 144.3 L1028.6 145.4 L1030.2 146.6 L1031.9 147.7 L1033.6 148.8 L1035.3 150.0 L1037.0 151.1 L1038.6 152.2 L1040.3 153.3 L1042.0 154.4 L1043.7 155.5 L1045.4 156.6 L1047.1 157.7 L1048.8 158.8 L1050.5 159.9 L1052.2 161.0 L1053.9 162.1 L1055.6 163.2 L1057.3 164.3 L1059.0 165.3 L1060.7 166.4 L1062.4 167.5 L1064.1 168.5 L1065.8 169.6 L1067.6 170.6 L1069.3 171.6 L1071.0 172.7 L1072.7 173.7 L1074.5 174.7 L1076.2 175.7 L1077.9 176.7 L1079.7 177.7 L1081.4 178.7 L1083.2 179.7 L1084.9 180.7 L1086.7 181.7 L1088.4 182.7 L1090.2 183.6 L1091.9 184.6 L1093.7 185.6 L1095.4 186.5 L1097.2 187.4 L1099.0 188.4 L1100.7 189.3 L1102.5 190.2 L1104.3 191.2 L1106.1 192.1 L1107.9 193.0 L1109.6 193.9 L1111.4 194.8 L1113.2 195.7 L1115.0 196.6 L1116.8 197.4 L1118.6 198.3 L1120.4 199.2 L1122.2 200.0 L1124.0 200.9 L1125.8 201.8 L1127.6 202.6 L1129.4 203.4 L1131.2 204.3 L1133.1 205.1 L1134.9 205.9 L1136.7 206.8 L1138.5 207.6 L1140.3 208.4 L1142.2 209.2 L1144.0 210.0 L1145.8 210.8 L1147.7 211.6 L1149.5 212.4 L1151.3 213.2 L1153.2 213.9 L1155.0 214.7 L1156.9 215.5 L1158.7 216.2 L1160.6 217.0 L1162.4 217.8 L1164.3 218.5 L1166.1 219.3 L1168.0 220.0 L1169.8 220.7 L1171.7 221.5 L1173.6 222.2 L1175.4 222.9 L1177.3 223.6 L1179.2 224.4 L1181.0 225.1 L1182.9 225.8 L1184.8 226.5 L1186.6 227.2 L1188.5 227.9 L1190.4 228.6 L1192.3 229.2 L1194.2 229.9 L1196.1 230.6 L1197.9 231.3 L1199.8 232.0 L1201.7 232.6 L1203.6 233.3 L1205.5 233.9 L1207.4 234.6 L1209.3 235.2 L1211.2 235.9 L1213.1 236.5 L1215.0 237.2 L1216.9 237.8 L1218.8 238.5 L1220.7 239.1 L1222.6 239.7 L1224.5 240.3 L1226.4 241.0 L1228.4 241.6 L1230.3 242.2 L1232.2 242.8 L1234.1 243.4 L1236.0 244.0 L1237.9 244.6 L1239.9 245.2 L1241.8 245.8 L1243.7 246.4 L1245.6 247.0 L1247.6 247.6 L1249.5 248.1 L1251.4 248.7 L1253.4 249.3 L1255.3 249.9 L1257.2 250.5 L1259.2 251.0 L1261.1 251.6 L1263.0 252.1 L1265.0 252.7 L1266.9 253.3 L1268.9 253.8 L1270.8 254.4 L1272.7 254.9 L1274.7 255.5 L1276.6 256.0 L1278.6 256.6 L1280.5 257.1 L1282.5 257.6 L1284.4 258.2 L1286.4 258.7 L1288.3 259.2 L1290.3 259.8 L1292.2 260.3 L1294.2 260.8 L1296.1 261.3 L1298.1 261.9 L1300.1 262.4 L1302.0 262.9 L1304.0 263.4 L1305.9 263.9 L1307.9 264.4 L1309.9 264.9 L1311.8 265.4 L1313.8 266.0 L1315.7 266.5 L1317.7 267.0 L1319.7 267.5 L1321.6 268.0 L1323.6 268.5 L1325.6 268.9 L1327.5 269.4 L1329.5 269.9 L1331.5 270.4 L1333.4 270.9 L1335.4 271.4 L1337.4 271.9 L1339.4 272.4 L1341.3 272.9 L1343.3 273.4 L1345.3 273.9 L1347.2 274.4 L1349.2 274.9 L1351.2 275.4 L1353.1 275.9 L1355.1 276.4 L1357.0 276.9 L1359.0 277.4 L1361.0 277.9 L1362.9 278.5 L1364.9 279.0 L1366.8 279.6 L1368.7 280.1 L1370.7 280.7 L1372.6 281.2 L1374.5 281.8 L1376.5 282.4 L1378.4 283.0 L1380.3 283.6 L1382.2 284.2 L1384.1 284.9 L1386.0 285.5 L1387.9 286.2 L1389.8 286.9 L1391.7 287.6 L1393.6 288.3 L1395.4 289.0 L1397.3 289.7 L1399.2 290.4 L1401.0 291.2 L1402.8 292.0 L1404.7 292.8 L1406.5 293.6 L1408.3 294.4 L1410.1 295.3 L1411.9 296.2 L1413.7 297.1 L1415.5 298.0 L1417.3 298.9 L1419.1 299.9 L1420.8 300.8 L1422.5 301.8 L1424.3 302.9 L1426.0 303.9 L1427.6 305.0 L1429.3 306.1 L1430.9 307.2 L1432.6 308.4 L1434.2 309.5 L1435.7 310.8 L1437.3 312.0 L1438.8 313.3 L1440.2 314.6 L1441.7 315.9 L1443.1 317.3 L1444.5 318.7 L1445.8 320.1 L1447.2 321.6 L1448.5 323.1 L1449.7 324.6 L1451.0 326.1 L1452.2 327.7 L1453.4 329.3 L1454.6 330.9 L1455.7 332.5 L1456.8 334.1 L1457.9 335.8 L1459.0 337.5 L1460.1 339.2 L1461.1 340.9 L1462.1 342.6 L1463.1 344.3 L1464.1 346.1 L1465.0 347.9 L1466.0 349.6 L1466.9 351.4 L1467.8 353.2 L1468.7 355.0 L1469.6 356.8 L1470.5 358.6 L1471.3 360.4 L1472.1 362.2 L1472.9 364.1 L1473.7 365.9 L1474.5 367.8 L1475.3 369.6 L1476.1 371.5 L1476.8 373.4 L1477.5 375.2 L1478.2 377.1 L1478.9 379.0 L1479.6 380.9 L1480.3 382.8 L1481.0 384.7 L1481.6 386.6 L1482.2 388.5 L1482.9 390.5 L1483.5 392.4 L1484.1 394.3 L1484.6 396.3 L1485.2 398.2 L1485.8 400.2 L1486.3 402.1 L1486.9 404.1 L1487.4 406.0 L1487.9 408.0 L1488.4 410.0 L1488.9 411.9 L1489.4 413.9 L1489.9 415.9 L1490.3 417.9 L1490.8 419.9 L1491.2 421.8 L1491.7 423.8 L1492.1 425.8 L1492.5 427.8 L1492.9 429.8 L1493.3 431.8 L1493.7 433.8 L1494.1 435.8 L1494.5 437.8 L1494.8 439.8 L1495.2 441.8 L1495.6 443.8 L1495.9 445.8 L1496.2 447.8 L1496.6 449.8 L1496.9 451.8 L1497.2 453.8 L1497.5 455.8 L1497.8 457.8 L1498.1 459.8 L1498.4 461.7 L1498.7 463.7 L1499.0 465.7 L1499.3 467.7 L1499.6 469.7 L1499.8 471.7 L1500.1 473.7 L1500.3 475.7 L1500.6 477.6 L1500.9 479.6 L1501.1 481.6 L1501.3 483.6 L1501.6 485.5 L1501.8 487.5 L1502.1 489.4 L1502.3 491.4 L1502.5 493.4 L1502.7 495.3 L1503.0 497.2 L1503.2 499.2" stroke="#4e0058"/>
</g>
<path d="M950.8 499.2v-5.5M950.8 14.9v5.5M992.9 499.2v-10M992.9 14.9v10M1035.1 499.2v-5.5M1035.1 14.9v5.5M1077.2 499.2v-10M1077.2 14.9v10M1119.4 499.2v-5.5M1119.4 14.9v5.5M1161.5 499.2v-10M1161.5 14.9v10M1203.7 499.2v-5.5M1203.7 14.9v5.5M1245.8 499.2v-10M1245.8 14.9v10M1288.0 499.2v-5.5M1288.0 14.9v5.5M1330.2 499.2v-10M1330.2 14.9v10M1372.3 499.2v-5.5M1372.3 14.9v5.5M1414.5 499.2v-10M1414.5 14.9v10M1456.6 499.2v-5.5M1456.6 14.9v5.5M1498.8 499.2v-10M1498.8 14.9v10M1540.9 499.2v-5.5M1540.9 14.9v5.5M908.6 464.6h5.5M1583.1 464.6h-5.5M908.6 430.0h10M1583.1 430.0h-10M908.6 395.4h5.5M1583.1 395.4h-5.5M908.6 360.8h10M1583.1 360.8h-10M908.6 326.2h5.5M1583.1 326.2h-5.5M908.6 291.6h10M1583.1 291.6h-10M908.6 257.0h5.5M1583.1 257.0h-5.5M908.6 222.5h10M1583.1 222.5h-10M908.6 187.9h5.5M1583.1 187.9h-5.5M908.6 153.3h10M1583.1 153.3h-10M908.6 118.7h5.5M1583.1 118.7h-5.5M908.6 84.1h10M1583.1 84.1h-10M908.6 49.5h5.5M1583.1 49.5h-5.5" stroke="#000" stroke-width="3" fill="none"/>
<rect x="908.6" y="14.9" width="674.5" height="484.3" fill="none" stroke="#000" stroke-width="3"/>
<g font-family="'Liberation Serif', 'Times New Roman', serif" font-weight="bold" font-size="23" fill="#000"><text x="908.6" y="527.6" text-anchor="middle">0</text><text x="992.9" y="527.6" text-anchor="middle">5</text><text x="1077.2" y="527.6" text-anchor="middle">10</text><text x="1161.5" y="527.6" text-anchor="middle">15</text><text x="1245.8" y="527.6" text-anchor="middle">20</text><text x="1330.2" y="527.6" text-anchor="middle">25</text><text x="1414.5" y="527.6" text-anchor="middle">30</text><text x="1498.8" y="527.6" text-anchor="middle">35</text><text x="1583.1" y="527.6" text-anchor="middle">40</text><text x="897.1" y="506.4" text-anchor="end">2.8</text><text x="897.1" y="437.2" text-anchor="end">3.0</text><text x="897.1" y="368.0" text-anchor="end">3.2</text><text x="897.1" y="298.8" text-anchor="end">3.4</text><text x="897.1" y="229.7" text-anchor="end">3.6</text><text x="897.1" y="160.5" text-anchor="end">3.8</text><text x="897.1" y="91.3" text-anchor="end">4.0</text><text x="897.1" y="22.1" text-anchor="end">4.2</text></g>
<text x="1244.5" y="574.2" text-anchor="middle" font-family="'Liberation Serif', 'Times New Roman', serif" font-weight="bold" font-size="32.5">Capacity [Ah]</text>
<text transform="translate(828.3 277.5) rotate(-90)" text-anchor="middle" font-family="'Liberation Serif', 'Times New Roman', serif" font-weight="bold" font-size="32.5">Voltage [V]</text>
<g font-family="'Liberation Serif', 'Times New Roman', serif" font-weight="bold" font-size="23.6" fill="#000"><path d="M1409.7 61.4H1466.0" stroke="#000000" stroke-width="3.2" stroke-linecap="round"/><text x="1539.5" y="69.4" text-anchor="end">- 30 °C</text><path d="M1409.7 90.1H1466.0" stroke="#b01515" stroke-width="3.2" stroke-linecap="round"/><text x="1539.5" y="98.1" text-anchor="end">- 20 °C</text><path d="M1409.7 118.8H1466.0" stroke="#0000f0" stroke-width="3.2" stroke-linecap="round"/><text x="1539.5" y="126.8" text-anchor="end">- 10 °C</text><path d="M1409.7 147.5H1466.0" stroke="#e000e8" stroke-width="3.2" stroke-linecap="round"/><text x="1537.5" y="155.5" text-anchor="end">0 °C</text><path d="M1409.7 176.2H1466.0" stroke="#2e7424" stroke-width="3.2" stroke-linecap="round"/><text x="1537.5" y="184.2" text-anchor="end">10 °C</text><path d="M1409.7 204.9H1466.0" stroke="#00004a" stroke-width="3.2" stroke-linecap="round"/><text x="1537.5" y="212.9" text-anchor="end">20 °C</text><path d="M1409.7 233.6H1466.0" stroke="#5800ff" stroke-width="3.2" stroke-linecap="round"/><text x="1537.5" y="241.6" text-anchor="end">30 °C</text><path d="M1409.7 262.3H1466.0" stroke="#4e0058" stroke-width="3.2" stroke-linecap="round"/><text x="1537.5" y="270.3" text-anchor="end">40 °C</text></g>
<text x="796.4" y="34.3" font-family="'Liberation Sans', Arial, sans-serif" font-weight="bold" font-size="41">B</text>
<clipPath id="clipC"><rect x="518.7" y="740.0" width="673.5" height="488.7"/></clipPath>
<path d="M518.7 1193.8H1192.2M518.7 1124.0H1192.2M518.7 1054.2H1192.2M518.7 984.3H1192.2M518.7 914.5H1192.2M518.7 844.7H1192.2M518.7 774.9H1192.2" stroke="#c4c4c4" stroke-width="1" stroke-dasharray="12.63 8.42" stroke-dashoffset="6.31" fill="none"/>
<path d="M560.8 740.0V1228.7M645.0 740.0V1228.7M729.2 740.0V1228.7M813.4 740.0V1228.7M897.5 740.0V1228.7M981.7 740.0V1228.7M1065.9 740.0V1228.7M1150.1 740.0V1228.7" stroke="#c4c4c4" stroke-width="1" stroke-dasharray="10.47 6.98" stroke-dashoffset="5.24" fill="none"/>
<path d="M518.7 1158.9H1192.2M518.7 1089.1H1192.2M518.7 1019.3H1192.2M518.7 949.4H1192.2M518.7 879.6H1192.2M518.7 809.8H1192.2" stroke="#d2d2d2" stroke-width="1" stroke-dasharray="2 1.5" fill="none"/>
<path d="M602.9 740.0V1228.7M687.1 740.0V1228.7M771.3 740.0V1228.7M855.5 740.0V1228.7M939.6 740.0V1228.7M1023.8 740.0V1228.7M1108.0 740.0V1228.7" stroke="#d2d2d2" stroke-width="1" stroke-dasharray="2 1.5" fill="none"/>
<rect x="1025.5" y="768" width="138.5" height="245" fill="#fff"/>
<g clip-path="url(#clipC)" fill="none" stroke-width="3.1" stroke-linejoin="round" stroke-linecap="round">
<path d="M520.4 1068.1 L520.7 1141.5 L521.5 1143.0 L522.6 1143.9 L524.0 1144.3 L525.6 1144.4 L527.3 1144.4 L529.0 1144.3 L530.7 1144.4 L532.3 1144.8 L533.7 1145.4 L535.1 1146.1 L536.4 1147.1 L537.6 1148.2 L538.8 1149.4 L539.8 1150.8 L540.8 1152.2 L541.7 1153.7 L542.6 1155.3 L543.4 1156.8 L544.1 1158.4 L544.8 1160.0 L545.4 1161.7 L546.0 1163.3 L546.6 1165.0 L547.1 1166.7 L547.5 1168.4 L547.9 1170.1 L548.3 1171.9 L548.7 1173.6 L549.0 1175.4 L549.2 1177.2 L549.5 1179.0 L549.7 1180.8 L549.9 1182.6 L550.1 1184.4 L550.3 1186.2 L550.4 1188.1 L550.6 1189.9 L550.7 1191.7 L550.8 1193.6 L550.9 1195.4 L551.0 1197.2 L551.1 1199.0 L551.2 1200.9 L551.3 1202.7 L551.4 1204.5 L551.6 1206.3 L551.7 1208.1 L551.8 1209.9 L552.0 1211.7 L552.2 1213.5 L552.4 1215.2 L552.6 1217.0 L552.8 1218.7 L553.1 1220.4 L553.4 1222.1 L553.7 1223.8 L554.1 1225.4 L554.5 1227.1 L554.9 1228.7" stroke="#000000"/>
<path d="M520.4 907.6 L520.7 1062.9 L521.4 1064.8 L522.1 1066.6 L522.9 1068.5 L523.8 1070.3 L524.7 1072.1 L525.6 1073.9 L526.5 1075.6 L527.5 1077.4 L528.5 1079.2 L529.5 1080.9 L530.6 1082.6 L531.6 1084.4 L532.7 1086.1 L533.7 1087.9 L534.8 1089.6 L535.8 1091.3 L536.9 1093.1 L537.9 1094.8 L538.9 1096.6 L539.9 1098.4 L540.9 1100.1 L541.9 1101.9 L542.9 1103.7 L543.8 1105.5 L544.7 1107.3 L545.6 1109.1 L546.4 1111.0 L547.2 1112.8 L548.0 1114.7 L548.8 1116.5 L549.5 1118.4 L550.3 1120.3 L551.0 1122.2 L551.6 1124.1 L552.3 1126.0 L552.9 1128.0 L553.5 1129.9 L554.1 1131.8 L554.7 1133.8 L555.3 1135.8 L555.8 1137.7 L556.3 1139.7 L556.8 1141.7 L557.4 1143.7 L557.8 1145.6 L558.3 1147.6 L558.8 1149.6 L559.3 1151.6 L559.7 1153.6 L560.2 1155.6 L560.6 1157.7 L561.0 1159.7 L561.5 1161.7 L561.9 1163.7 L562.3 1165.7 L562.7 1167.7 L563.2 1169.8 L563.6 1171.8 L564.0 1173.8 L564.4 1175.8 L564.9 1177.8 L565.3 1179.9 L565.7 1181.9 L566.2 1183.9 L566.6 1185.9 L567.1 1187.9 L567.5 1189.9 L568.0 1191.9 L568.5 1193.9 L569.0 1195.9 L569.5 1197.9 L570.0 1199.9 L570.5 1201.9 L571.1 1203.8 L571.7 1205.8 L572.2 1207.7 L572.8 1209.7 L573.5 1211.6 L574.1 1213.6 L574.7 1215.5 L575.4 1217.4 L576.1 1219.3 L576.8 1221.2 L577.6 1223.1 L578.4 1225.0 L579.2 1226.8 L580.0 1228.7" stroke="#9e1a1a"/>
<path d="M520.4 879.6 L520.7 914.5 L522.1 916.1 L523.6 917.7 L524.9 919.3 L526.3 920.9 L527.6 922.5 L528.8 924.2 L530.1 925.8 L531.3 927.4 L532.5 929.0 L533.6 930.7 L534.7 932.3 L535.8 934.0 L536.8 935.6 L537.8 937.3 L538.8 939.0 L539.8 940.7 L540.7 942.3 L541.7 944.0 L542.6 945.8 L543.4 947.5 L544.3 949.2 L545.1 951.0 L546.0 952.7 L546.7 954.5 L547.5 956.3 L548.3 958.1 L549.0 959.9 L549.8 961.7 L550.5 963.5 L551.2 965.4 L551.9 967.2 L552.6 969.1 L553.3 971.0 L553.9 972.9 L554.6 974.8 L555.3 976.8 L555.9 978.7 L556.6 980.7 L557.2 982.7 L557.8 984.7 L558.5 986.7 L559.1 988.7 L559.8 990.8 L560.4 992.8 L561.1 994.8 L561.8 996.8 L562.5 998.9 L563.2 1000.9 L564.0 1002.8 L564.7 1004.8 L565.5 1006.7 L566.3 1008.7 L567.2 1010.6 L568.1 1012.4 L569.0 1014.2 L570.0 1016.0 L571.0 1017.8 L572.0 1019.5 L573.1 1021.1 L574.2 1022.7 L575.4 1024.3 L576.6 1025.8 L577.9 1027.2 L579.2 1028.6 L580.6 1029.9 L582.0 1031.2 L583.5 1032.4 L585.0 1033.6 L586.6 1034.7 L588.2 1035.8 L589.8 1036.8 L591.5 1037.8 L593.2 1038.7 L594.9 1039.6 L596.6 1040.5 L598.4 1041.3 L600.2 1042.1 L602.1 1042.8 L603.9 1043.5 L605.8 1044.2 L607.7 1044.8 L609.6 1045.4 L611.6 1046.0 L613.5 1046.5 L615.5 1047.0 L617.4 1047.5 L619.4 1047.9 L621.4 1048.4 L623.4 1048.8 L625.4 1049.1 L627.4 1049.5 L629.4 1049.8 L631.4 1050.1 L633.4 1050.4 L635.4 1050.7 L637.4 1051.0 L639.4 1051.3 L641.4 1051.5 L643.4 1051.8 L645.4 1052.0 L647.4 1052.3 L649.4 1052.5 L651.4 1052.8 L653.4 1053.0 L655.4 1053.3 L657.4 1053.6 L659.4 1053.9 L661.4 1054.2 L663.4 1054.5 L665.4 1054.8 L667.3 1055.2 L669.3 1055.5 L671.3 1055.9 L673.3 1056.3 L675.2 1056.8 L677.2 1057.2 L679.1 1057.6 L681.1 1058.1 L683.0 1058.6 L685.0 1059.1 L686.9 1059.6 L688.8 1060.2 L690.8 1060.7 L692.7 1061.3 L694.6 1061.9 L696.5 1062.4 L698.5 1063.0 L700.4 1063.7 L702.3 1064.3 L704.2 1064.9 L706.1 1065.6 L708.0 1066.3 L709.9 1067.0 L711.8 1067.6 L713.7 1068.4 L715.6 1069.1 L717.5 1069.8 L719.3 1070.5 L721.2 1071.3 L723.1 1072.1 L725.0 1072.8 L726.8 1073.6 L728.7 1074.4 L730.6 1075.2 L732.4 1076.0 L734.3 1076.8 L736.1 1077.7 L738.0 1078.5 L739.8 1079.4 L741.6 1080.3 L743.4 1081.2 L745.2 1082.1 L747.0 1083.0 L748.8 1084.0 L750.5 1084.9 L752.3 1086.0 L754.0 1087.0 L755.7 1088.0 L757.4 1089.1 L759.0 1090.2 L760.6 1091.3 L762.2 1092.5 L763.8 1093.7 L765.3 1094.9 L766.8 1096.2 L768.3 1097.5 L769.8 1098.8 L771.2 1100.1 L772.6 1101.5 L773.9 1103.0 L775.2 1104.4 L776.5 1106.0 L777.7 1107.5 L779.0 1109.1 L780.1 1110.6 L781.3 1112.3 L782.4 1113.9 L783.5 1115.6 L784.6 1117.3 L785.6 1119.0 L786.7 1120.8 L787.6 1122.5 L788.6 1124.3 L789.5 1126.1 L790.5 1128.0 L791.4 1129.8 L792.2 1131.7 L793.1 1133.6 L793.9 1135.4 L794.7 1137.3 L795.5 1139.2 L796.3 1141.2 L797.0 1143.1 L797.8 1145.0 L798.5 1147.0 L799.2 1148.9 L799.8 1150.9 L800.5 1152.8 L801.2 1154.7 L801.8 1156.7 L802.4 1158.6 L803.1 1160.6 L803.7 1162.5 L804.2 1164.5 L804.8 1166.4 L805.4 1168.3 L806.0 1170.2 L806.5 1172.1 L807.1 1174.0 L807.6 1175.9 L808.1 1177.8 L808.6 1179.7 L809.1 1181.6 L809.6 1183.5 L810.1 1185.4 L810.6 1187.3 L811.1 1189.2 L811.5 1191.1 L812.0 1193.0 L812.4 1194.9 L812.9 1196.8 L813.3 1198.7 L813.7 1200.7 L814.1 1202.6 L814.5 1204.5 L814.9 1206.5 L815.3 1208.4 L815.7 1210.4 L816.1 1212.4 L816.4 1214.4 L816.8 1216.4 L817.1 1218.4 L817.5 1220.4 L817.8 1222.5 L818.1 1224.5 L818.4 1226.6 L818.7 1228.7" stroke="#0000f0"/>
<path d="M520.4 862.2 L520.7 877.5 L521.7 879.2 L522.6 880.9 L523.6 882.6 L524.5 884.3 L525.5 886.1 L526.4 887.8 L527.4 889.5 L528.4 891.3 L529.3 893.0 L530.3 894.8 L531.3 896.5 L532.3 898.3 L533.2 900.0 L534.2 901.8 L535.2 903.6 L536.2 905.3 L537.2 907.1 L538.2 908.8 L539.2 910.6 L540.3 912.4 L541.3 914.1 L542.3 915.9 L543.4 917.6 L544.4 919.4 L545.5 921.1 L546.5 922.9 L547.6 924.6 L548.7 926.4 L549.8 928.1 L550.9 929.8 L552.0 931.5 L553.1 933.2 L554.2 934.9 L555.4 936.6 L556.5 938.3 L557.7 940.0 L558.8 941.7 L560.0 943.3 L561.2 945.0 L562.4 946.6 L563.6 948.2 L564.8 949.8 L566.1 951.4 L567.3 953.0 L568.6 954.6 L569.9 956.2 L571.2 957.7 L572.5 959.2 L573.8 960.8 L575.1 962.3 L576.5 963.7 L577.8 965.2 L579.2 966.6 L580.6 968.1 L582.0 969.5 L583.4 970.9 L584.8 972.2 L586.3 973.6 L587.8 974.9 L589.2 976.2 L590.7 977.5 L592.3 978.8 L593.8 980.0 L595.3 981.2 L596.9 982.4 L598.5 983.6 L600.1 984.8 L601.7 985.9 L603.4 987.0 L605.0 988.1 L606.7 989.2 L608.4 990.2 L610.0 991.3 L611.8 992.3 L613.5 993.3 L615.2 994.2 L617.0 995.2 L618.7 996.1 L620.5 997.1 L622.3 998.0 L624.1 998.9 L625.9 999.8 L627.7 1000.6 L629.5 1001.5 L631.3 1002.3 L633.2 1003.2 L635.0 1004.0 L636.9 1004.8 L638.7 1005.6 L640.6 1006.4 L642.5 1007.1 L644.3 1007.9 L646.2 1008.7 L648.1 1009.4 L650.0 1010.1 L651.9 1010.9 L653.8 1011.6 L655.7 1012.3 L657.7 1013.0 L659.6 1013.7 L661.5 1014.4 L663.4 1015.1 L665.3 1015.8 L667.3 1016.4 L669.2 1017.1 L671.1 1017.8 L673.0 1018.5 L675.0 1019.1 L676.9 1019.8 L678.8 1020.5 L680.7 1021.1 L682.7 1021.8 L684.6 1022.5 L686.5 1023.1 L688.4 1023.8 L690.3 1024.5 L692.2 1025.1 L694.1 1025.8 L696.1 1026.5 L698.0 1027.1 L699.8 1027.8 L701.7 1028.5 L703.6 1029.2 L705.5 1029.8 L707.4 1030.5 L709.3 1031.2 L711.2 1031.9 L713.1 1032.5 L715.0 1033.2 L716.8 1033.9 L718.7 1034.6 L720.6 1035.2 L722.5 1035.9 L724.3 1036.6 L726.2 1037.3 L728.1 1038.0 L730.0 1038.6 L731.8 1039.3 L733.7 1040.0 L735.6 1040.7 L737.5 1041.3 L739.3 1042.0 L741.2 1042.7 L743.1 1043.3 L745.0 1044.0 L746.9 1044.7 L748.7 1045.4 L750.6 1046.0 L752.5 1046.7 L754.4 1047.4 L756.3 1048.0 L758.1 1048.7 L760.0 1049.3 L761.9 1050.0 L763.8 1050.7 L765.7 1051.3 L767.6 1052.0 L769.5 1052.6 L771.4 1053.3 L773.3 1053.9 L775.2 1054.6 L777.1 1055.2 L779.0 1055.8 L780.9 1056.5 L782.8 1057.1 L784.8 1057.8 L786.7 1058.4 L788.6 1059.1 L790.5 1059.7 L792.4 1060.4 L794.3 1061.0 L796.3 1061.7 L798.2 1062.3 L800.1 1063.0 L802.0 1063.6 L803.9 1064.3 L805.8 1064.9 L807.8 1065.6 L809.7 1066.3 L811.6 1067.0 L813.5 1067.6 L815.4 1068.3 L817.3 1069.0 L819.2 1069.7 L821.1 1070.4 L823.0 1071.1 L824.9 1071.8 L826.8 1072.6 L828.7 1073.3 L830.6 1074.0 L832.5 1074.8 L834.4 1075.5 L836.2 1076.3 L838.1 1077.0 L840.0 1077.8 L841.8 1078.6 L843.7 1079.4 L845.5 1080.2 L847.4 1081.0 L849.2 1081.8 L851.1 1082.7 L852.9 1083.5 L854.7 1084.4 L856.6 1085.3 L858.4 1086.1 L860.2 1087.0 L862.0 1087.9 L863.8 1088.9 L865.5 1089.8 L867.3 1090.8 L869.1 1091.7 L870.8 1092.7 L872.6 1093.7 L874.3 1094.8 L876.0 1095.8 L877.7 1096.9 L879.4 1098.0 L881.0 1099.1 L882.7 1100.2 L884.3 1101.4 L885.9 1102.5 L887.5 1103.7 L889.1 1104.9 L890.7 1106.2 L892.2 1107.4 L893.7 1108.7 L895.2 1110.0 L896.7 1111.3 L898.2 1112.6 L899.6 1114.0 L901.0 1115.4 L902.4 1116.8 L903.8 1118.2 L905.1 1119.6 L906.5 1121.1 L907.8 1122.6 L909.0 1124.1 L910.3 1125.6 L911.5 1127.2 L912.7 1128.8 L913.9 1130.4 L915.0 1132.0 L916.1 1133.6 L917.2 1135.3 L918.3 1137.0 L919.3 1138.7 L920.3 1140.4 L921.3 1142.2 L922.3 1143.9 L923.2 1145.7 L924.1 1147.5 L925.0 1149.3 L925.9 1151.1 L926.8 1153.0 L927.6 1154.8 L928.4 1156.7 L929.2 1158.6 L930.0 1160.4 L930.7 1162.3 L931.5 1164.2 L932.2 1166.2 L932.9 1168.1 L933.6 1170.0 L934.2 1172.0 L934.9 1173.9 L935.5 1175.9 L936.1 1177.8 L936.7 1179.8 L937.3 1181.8 L937.9 1183.8 L938.5 1185.7 L939.0 1187.7 L939.6 1189.7 L940.1 1191.7 L940.6 1193.7 L941.1 1195.7 L941.6 1197.6 L942.1 1199.6 L942.6 1201.6 L943.1 1203.6 L943.6 1205.6 L944.0 1207.5 L944.5 1209.5 L944.9 1211.4 L945.3 1213.4 L945.8 1215.3 L946.2 1217.3 L946.6 1219.2 L947.1 1221.1 L947.5 1223.0 L947.9 1224.9 L948.3 1226.8 L948.7 1228.7" stroke="#e000e8"/>
<path d="M520.4 809.8 L520.7 829.4 L521.0 831.4 L521.3 833.5 L521.7 835.5 L522.1 837.5 L522.6 839.5 L523.1 841.4 L523.7 843.4 L524.3 845.3 L525.0 847.2 L525.7 849.1 L526.4 850.9 L527.2 852.8 L528.0 854.6 L528.9 856.4 L529.8 858.2 L530.7 860.0 L531.7 861.7 L532.7 863.5 L533.7 865.2 L534.8 866.9 L535.8 868.6 L537.0 870.3 L538.1 871.9 L539.3 873.6 L540.5 875.2 L541.7 876.9 L542.9 878.5 L544.2 880.1 L545.5 881.7 L546.8 883.2 L548.1 884.8 L549.5 886.4 L550.8 887.9 L552.2 889.4 L553.6 891.0 L555.0 892.5 L556.4 894.0 L557.8 895.5 L559.2 897.0 L560.7 898.4 L562.1 899.9 L563.5 901.4 L565.0 902.8 L566.5 904.3 L567.9 905.7 L569.4 907.2 L570.9 908.6 L572.3 910.0 L573.8 911.4 L575.3 912.8 L576.8 914.2 L578.3 915.6 L579.7 917.0 L581.2 918.4 L582.7 919.8 L584.1 921.1 L585.6 922.5 L587.1 923.8 L588.5 925.2 L590.0 926.5 L591.4 927.8 L592.1 933.7 L593.8 934.8 L595.6 935.8 L597.3 936.9 L599.1 937.9 L600.8 939.0 L602.5 940.0 L604.3 941.1 L606.0 942.1 L607.7 943.2 L609.5 944.2 L611.2 945.2 L613.0 946.3 L614.7 947.3 L616.4 948.4 L618.2 949.4 L619.9 950.4 L621.7 951.5 L623.4 952.5 L625.1 953.5 L626.9 954.5 L628.6 955.6 L630.4 956.6 L632.1 957.6 L633.8 958.6 L635.6 959.6 L637.3 960.7 L639.1 961.7 L640.8 962.7 L642.6 963.7 L644.3 964.7 L646.1 965.7 L647.8 966.7 L649.5 967.7 L651.3 968.7 L653.0 969.7 L654.8 970.7 L656.5 971.7 L658.3 972.7 L660.0 973.7 L661.8 974.7 L663.5 975.7 L665.3 976.7 L667.0 977.7 L668.8 978.7 L670.5 979.6 L672.3 980.6 L674.0 981.6 L675.8 982.6 L677.6 983.5 L679.3 984.5 L681.1 985.5 L682.8 986.5 L684.6 987.4 L686.3 988.4 L688.1 989.3 L689.9 990.3 L691.6 991.3 L693.4 992.2 L695.1 993.2 L696.9 994.1 L698.7 995.1 L700.4 996.0 L702.2 996.9 L704.0 997.9 L705.8 998.8 L707.5 999.8 L709.3 1000.7 L711.1 1001.6 L712.8 1002.6 L714.6 1003.5 L716.4 1004.4 L718.2 1005.3 L719.9 1006.2 L721.7 1007.2 L723.5 1008.1 L725.3 1009.0 L727.1 1009.9 L728.9 1010.8 L730.6 1011.7 L732.4 1012.6 L734.2 1013.5 L736.0 1014.4 L737.8 1015.3 L739.6 1016.2 L741.4 1017.1 L743.2 1017.9 L745.0 1018.8 L746.8 1019.7 L748.6 1020.6 L750.4 1021.4 L752.2 1022.3 L754.0 1023.2 L755.8 1024.0 L757.6 1024.9 L759.4 1025.8 L761.2 1026.6 L763.0 1027.5 L764.8 1028.3 L766.6 1029.2 L768.4 1030.0 L770.3 1030.9 L772.1 1031.7 L773.9 1032.5 L775.7 1033.4 L777.5 1034.2 L779.4 1035.0 L781.2 1035.8 L783.0 1036.7 L784.9 1037.5 L786.7 1038.3 L788.5 1039.1 L790.4 1039.9 L792.2 1040.7 L794.0 1041.5 L795.9 1042.3 L797.7 1043.1 L799.6 1043.9 L801.4 1044.7 L803.2 1045.5 L805.1 1046.2 L807.0 1047.0 L808.8 1047.8 L810.7 1048.6 L812.5 1049.3 L814.4 1050.1 L816.2 1050.8 L818.1 1051.6 L820.0 1052.4 L821.8 1053.1 L823.7 1053.8 L825.6 1054.6 L827.5 1055.3 L829.3 1056.1 L831.2 1056.8 L833.1 1057.5 L835.0 1058.2 L836.9 1059.0 L838.7 1059.7 L840.6 1060.4 L842.5 1061.1 L844.4 1061.8 L846.3 1062.5 L848.2 1063.2 L850.1 1063.9 L852.0 1064.6 L853.9 1065.3 L855.8 1066.0 L857.7 1066.6 L859.6 1067.3 L861.6 1068.0 L863.5 1068.7 L865.4 1069.3 L867.3 1070.0 L869.2 1070.6 L871.2 1071.3 L873.1 1071.9 L875.0 1072.6 L877.0 1073.2 L878.9 1073.9 L880.8 1074.5 L882.8 1075.1 L884.7 1075.7 L886.7 1076.4 L888.6 1077.0 L890.6 1077.6 L892.5 1078.2 L894.5 1078.9 L896.4 1079.5 L898.4 1080.1 L900.3 1080.7 L902.2 1081.3 L904.2 1081.9 L906.1 1082.6 L908.1 1083.2 L910.0 1083.8 L912.0 1084.4 L913.9 1085.1 L915.8 1085.7 L917.8 1086.3 L919.7 1087.0 L921.6 1087.6 L923.6 1088.3 L925.5 1088.9 L927.4 1089.6 L929.3 1090.3 L931.2 1090.9 L933.1 1091.6 L935.0 1092.3 L936.9 1093.0 L938.8 1093.7 L940.7 1094.4 L942.6 1095.1 L944.4 1095.8 L946.3 1096.6 L948.2 1097.3 L950.0 1098.1 L951.9 1098.8 L953.7 1099.6 L955.6 1100.4 L957.4 1101.2 L959.2 1102.0 L961.0 1102.8 L962.8 1103.6 L964.6 1104.5 L966.4 1105.3 L968.2 1106.2 L969.9 1107.1 L971.7 1108.0 L973.4 1108.9 L975.2 1109.8 L976.9 1110.8 L978.6 1111.7 L980.3 1112.7 L982.0 1113.7 L983.7 1114.7 L985.4 1115.7 L987.0 1116.8 L988.7 1117.8 L990.3 1118.9 L991.9 1120.0 L993.6 1121.1 L995.2 1122.2 L996.7 1123.4 L998.3 1124.6 L999.9 1125.8 L1001.4 1127.0 L1002.9 1128.2 L1004.5 1129.5 L1006.0 1130.8 L1007.5 1132.1 L1008.9 1133.4 L1010.4 1134.7 L1011.8 1136.1 L1013.3 1137.5 L1014.7 1138.9 L1016.1 1140.3 L1017.4 1141.8 L1018.8 1143.3 L1020.1 1144.7 L1021.5 1146.3 L1022.8 1147.8 L1024.1 1149.3 L1025.4 1150.9 L1026.6 1152.5 L1027.9 1154.1 L1029.1 1155.7 L1030.3 1157.3 L1031.5 1159.0 L1032.7 1160.6 L1033.9 1162.3 L1035.0 1164.0 L1036.2 1165.7 L1037.3 1167.4 L1038.4 1169.1 L1039.4 1170.9 L1040.5 1172.6 L1041.5 1174.4 L1042.6 1176.2 L1043.6 1177.9 L1044.6 1179.7 L1045.5 1181.5 L1046.5 1183.4 L1047.4 1185.2 L1048.3 1187.0 L1049.2 1188.9 L1050.1 1190.7 L1050.9 1192.6 L1051.8 1194.4 L1052.6 1196.3 L1053.4 1198.2 L1054.2 1200.1 L1054.9 1202.0 L1055.7 1203.9 L1056.4 1205.7 L1057.1 1207.6 L1057.7 1209.6 L1058.4 1211.5 L1059.0 1213.4 L1059.7 1215.3 L1060.2 1217.2 L1060.8 1219.1 L1061.4 1221.0 L1061.9 1223.0 L1062.4 1224.9 L1062.9 1226.8 L1063.4 1228.7" stroke="#2e7424"/>
<path d="M520.4 774.9 L520.7 816.8 L521.4 818.7 L522.2 820.6 L523.0 822.5 L523.8 824.4 L524.7 826.3 L525.6 828.1 L526.5 829.9 L527.4 831.7 L528.4 833.5 L529.3 835.2 L530.4 836.9 L531.4 838.6 L532.4 840.3 L533.5 842.0 L534.6 843.7 L535.8 845.3 L536.9 846.9 L538.1 848.5 L539.3 850.1 L540.5 851.7 L541.8 853.2 L543.0 854.8 L544.3 856.3 L545.6 857.8 L546.9 859.3 L548.3 860.8 L549.6 862.2 L551.0 863.7 L552.4 865.1 L553.8 866.5 L555.2 867.9 L556.6 869.3 L558.1 870.7 L559.6 872.0 L561.1 873.4 L562.6 874.7 L564.1 876.0 L565.6 877.3 L567.1 878.6 L568.7 879.9 L570.3 881.2 L571.8 882.4 L573.4 883.7 L575.0 884.9 L576.6 886.1 L578.2 887.3 L579.9 888.5 L581.5 889.7 L583.2 890.9 L584.8 892.1 L586.5 893.3 L588.1 894.4 L589.8 895.6 L591.5 896.7 L593.2 897.8 L594.9 899.0 L596.6 900.1 L598.3 901.2 L600.0 902.3 L601.7 903.4 L603.4 904.4 L605.1 905.5 L606.8 906.6 L608.5 907.6 L610.3 908.7 L612.0 909.8 L613.7 910.8 L615.4 911.8 L617.2 912.9 L618.9 913.9 L620.6 914.9 L622.4 915.9 L624.1 917.0 L625.9 918.0 L627.6 919.0 L629.4 920.0 L631.1 921.0 L632.9 921.9 L634.6 922.9 L636.4 923.9 L638.1 924.9 L639.9 925.9 L641.6 926.8 L643.4 927.8 L645.2 928.8 L646.9 929.7 L648.7 930.7 L650.4 931.6 L652.2 932.6 L654.0 933.5 L655.7 934.5 L657.5 935.4 L659.3 936.4 L661.1 937.3 L662.8 938.2 L664.6 939.2 L666.4 940.1 L668.2 941.0 L669.9 942.0 L671.7 942.9 L673.5 943.8 L675.3 944.8 L677.0 945.7 L678.8 946.6 L680.6 947.6 L682.4 948.5 L684.1 949.4 L685.9 950.3 L687.7 951.3 L689.5 952.2 L691.2 953.1 L693.0 954.1 L694.8 955.0 L696.6 955.9 L698.4 956.9 L700.1 957.8 L701.9 958.7 L703.7 959.7 L705.5 960.6 L707.2 961.5 L709.0 962.5 L710.8 963.4 L712.6 964.3 L714.3 965.3 L716.1 966.2 L717.9 967.2 L719.7 968.1 L721.4 969.0 L723.2 970.0 L725.0 970.9 L726.8 971.8 L728.6 972.8 L730.3 973.7 L732.1 974.6 L733.9 975.6 L735.7 976.5 L737.5 977.4 L739.2 978.4 L741.0 979.3 L742.8 980.2 L744.6 981.2 L746.4 982.1 L748.1 983.0 L749.9 984.0 L751.7 984.9 L753.5 985.8 L755.3 986.7 L757.1 987.7 L758.8 988.6 L760.6 989.5 L762.4 990.4 L764.2 991.4 L766.0 992.3 L767.8 993.2 L769.6 994.1 L771.3 995.1 L773.1 996.0 L774.9 996.9 L776.7 997.8 L778.5 998.7 L780.3 999.6 L782.1 1000.5 L783.9 1001.4 L785.7 1002.3 L787.5 1003.2 L789.3 1004.1 L791.1 1005.0 L792.9 1005.9 L794.7 1006.8 L796.5 1007.7 L798.3 1008.6 L800.1 1009.4 L801.9 1010.3 L803.7 1011.1 L805.6 1012.0 L807.4 1012.8 L809.2 1013.7 L811.0 1014.5 L812.9 1015.3 L814.7 1016.1 L816.6 1016.9 L818.4 1017.7 L820.2 1018.5 L822.1 1019.3 L823.9 1020.1 L825.8 1020.8 L827.7 1021.6 L829.5 1022.3 L831.4 1023.1 L833.2 1023.8 L835.1 1024.6 L837.0 1025.3 L838.9 1026.0 L840.7 1026.7 L842.6 1027.5 L844.5 1028.2 L846.4 1028.9 L848.2 1029.6 L850.1 1030.3 L852.0 1031.0 L853.9 1031.7 L855.8 1032.3 L857.6 1033.0 L859.5 1033.7 L861.4 1034.4 L863.3 1035.1 L865.2 1035.7 L867.1 1036.4 L868.9 1037.1 L870.8 1037.7 L872.7 1038.4 L874.6 1039.1 L876.5 1039.7 L878.4 1040.4 L880.3 1041.0 L882.2 1041.7 L884.1 1042.3 L885.9 1043.0 L887.8 1043.6 L889.7 1044.3 L891.6 1044.9 L893.5 1045.6 L895.4 1046.2 L897.3 1046.9 L899.2 1047.5 L901.1 1048.1 L903.0 1048.8 L904.9 1049.4 L906.8 1050.1 L908.7 1050.7 L910.6 1051.4 L912.5 1052.0 L914.4 1052.6 L916.3 1053.3 L918.1 1053.9 L920.0 1054.6 L921.9 1055.2 L923.8 1055.9 L925.7 1056.5 L927.6 1057.2 L929.5 1057.8 L931.4 1058.5 L933.3 1059.1 L935.2 1059.8 L937.1 1060.5 L939.0 1061.1 L940.9 1061.8 L942.8 1062.4 L944.7 1063.1 L946.6 1063.8 L948.5 1064.4 L950.4 1065.1 L952.3 1065.8 L954.2 1066.5 L956.1 1067.2 L958.0 1067.9 L959.9 1068.6 L961.8 1069.3 L963.7 1070.0 L965.6 1070.7 L967.5 1071.4 L969.4 1072.1 L971.3 1072.8 L973.2 1073.6 L975.1 1074.3 L977.0 1075.1 L978.9 1075.8 L980.8 1076.6 L982.7 1077.4 L984.6 1078.1 L986.4 1078.9 L988.3 1079.7 L990.2 1080.5 L992.1 1081.3 L993.9 1082.1 L995.8 1083.0 L997.7 1083.8 L999.5 1084.7 L1001.4 1085.5 L1003.2 1086.4 L1005.1 1087.3 L1006.9 1088.2 L1008.7 1089.1 L1010.5 1090.0 L1012.3 1091.0 L1014.1 1091.9 L1015.9 1092.9 L1017.6 1093.9 L1019.4 1094.9 L1021.1 1095.9 L1022.8 1096.9 L1024.6 1098.0 L1026.3 1099.1 L1027.9 1100.1 L1029.6 1101.2 L1031.3 1102.4 L1032.9 1103.5 L1034.5 1104.6 L1036.1 1105.8 L1037.7 1107.0 L1039.3 1108.2 L1040.8 1109.5 L1042.3 1110.7 L1043.8 1112.0 L1045.3 1113.3 L1046.8 1114.6 L1048.2 1115.9 L1049.6 1117.3 L1051.0 1118.7 L1052.4 1120.1 L1053.7 1121.5 L1055.1 1123.0 L1056.4 1124.5 L1057.6 1126.0 L1058.9 1127.5 L1060.1 1129.0 L1061.4 1130.6 L1062.6 1132.1 L1063.7 1133.7 L1064.9 1135.3 L1066.0 1136.9 L1067.1 1138.6 L1068.2 1140.2 L1069.3 1141.9 L1070.4 1143.6 L1071.4 1145.3 L1072.4 1147.0 L1073.4 1148.8 L1074.4 1150.5 L1075.3 1152.3 L1076.3 1154.0 L1077.2 1155.8 L1078.1 1157.6 L1079.0 1159.4 L1079.9 1161.3 L1080.7 1163.1 L1081.5 1164.9 L1082.4 1166.8 L1083.2 1168.6 L1084.0 1170.5 L1084.7 1172.4 L1085.5 1174.3 L1086.2 1176.2 L1086.9 1178.1 L1087.6 1180.0 L1088.3 1181.9 L1089.0 1183.8 L1089.7 1185.8 L1090.3 1187.7 L1090.9 1189.6 L1091.5 1191.6 L1092.1 1193.5 L1092.7 1195.5 L1093.3 1197.4 L1093.9 1199.4 L1094.4 1201.3 L1094.9 1203.3 L1095.5 1205.3 L1096.0 1207.2 L1096.5 1209.2 L1096.9 1211.1 L1097.4 1213.1 L1097.9 1215.1 L1098.3 1217.0 L1098.7 1219.0 L1099.2 1220.9 L1099.6 1222.9 L1100.0 1224.8 L1100.4 1226.8 L1100.8 1228.7" stroke="#00004a"/>
<path d="M520.4 757.5 L520.7 814.0 L521.4 816.0 L522.2 817.9 L523.0 819.8 L523.8 821.7 L524.6 823.5 L525.5 825.3 L526.4 827.1 L527.3 828.9 L528.3 830.7 L529.3 832.4 L530.3 834.1 L531.4 835.8 L532.4 837.5 L533.5 839.1 L534.7 840.8 L535.8 842.4 L537.0 843.9 L538.2 845.5 L539.4 847.1 L540.7 848.6 L541.9 850.1 L543.2 851.6 L544.5 853.1 L545.9 854.5 L547.2 856.0 L548.6 857.4 L550.0 858.8 L551.4 860.2 L552.8 861.5 L554.3 862.9 L555.7 864.2 L557.2 865.6 L558.7 866.9 L560.2 868.2 L561.7 869.5 L563.3 870.8 L564.8 872.0 L566.4 873.3 L568.0 874.5 L569.6 875.7 L571.2 876.9 L572.8 878.1 L574.4 879.3 L576.0 880.5 L577.7 881.7 L579.3 882.9 L581.0 884.0 L582.7 885.2 L584.3 886.3 L586.0 887.4 L587.7 888.5 L589.4 889.7 L591.1 890.8 L592.8 891.9 L594.5 893.0 L596.2 894.1 L597.9 895.1 L599.7 896.2 L601.4 897.3 L603.1 898.4 L604.8 899.4 L606.5 900.5 L608.3 901.5 L610.0 902.6 L611.7 903.6 L613.4 904.7 L615.2 905.7 L616.9 906.8 L618.6 907.8 L620.4 908.8 L622.1 909.9 L623.8 910.9 L625.6 911.9 L627.3 912.9 L629.0 913.9 L630.8 914.9 L632.5 915.9 L634.3 916.9 L636.0 917.9 L637.8 918.9 L639.5 919.9 L641.3 920.9 L643.0 921.9 L644.8 922.8 L646.5 923.8 L648.3 924.8 L650.0 925.7 L651.8 926.7 L653.5 927.6 L655.3 928.6 L657.1 929.5 L658.8 930.5 L660.6 931.4 L662.4 932.4 L664.1 933.3 L665.9 934.2 L667.7 935.2 L669.5 936.1 L671.2 937.0 L673.0 937.9 L674.8 938.8 L676.6 939.7 L678.4 940.6 L680.1 941.5 L681.9 942.4 L683.7 943.3 L685.5 944.2 L687.3 945.1 L689.1 946.0 L690.9 946.9 L692.7 947.8 L694.5 948.6 L696.3 949.5 L698.1 950.4 L699.9 951.3 L701.7 952.1 L703.5 953.0 L705.3 953.8 L707.2 954.7 L709.0 955.6 L710.8 956.4 L712.6 957.3 L714.4 958.1 L716.2 958.9 L718.1 959.8 L719.9 960.6 L721.7 961.5 L723.5 962.3 L725.3 963.1 L727.2 964.0 L729.0 964.8 L730.8 965.6 L732.6 966.5 L734.5 967.3 L736.3 968.1 L738.1 969.0 L740.0 969.8 L741.8 970.6 L743.6 971.4 L745.5 972.3 L747.3 973.1 L749.1 973.9 L751.0 974.7 L752.8 975.6 L754.6 976.4 L756.5 977.2 L758.3 978.0 L760.1 978.9 L762.0 979.7 L763.8 980.5 L765.6 981.3 L767.5 982.2 L769.3 983.0 L771.1 983.8 L772.9 984.6 L774.8 985.5 L776.6 986.3 L778.4 987.1 L780.3 988.0 L782.1 988.8 L783.9 989.6 L785.8 990.4 L787.6 991.3 L789.4 992.1 L791.3 992.9 L793.1 993.7 L794.9 994.5 L796.8 995.4 L798.6 996.2 L800.4 997.0 L802.3 997.8 L804.1 998.6 L805.9 999.4 L807.8 1000.2 L809.6 1001.0 L811.5 1001.8 L813.3 1002.5 L815.1 1003.3 L817.0 1004.1 L818.8 1004.9 L820.7 1005.6 L822.5 1006.4 L824.4 1007.1 L826.2 1007.9 L828.0 1008.6 L829.9 1009.4 L831.7 1010.1 L833.6 1010.8 L835.5 1011.5 L837.3 1012.3 L839.2 1013.0 L841.0 1013.7 L842.9 1014.4 L844.8 1015.1 L846.6 1015.8 L848.5 1016.4 L850.4 1017.1 L852.2 1017.8 L854.1 1018.5 L856.0 1019.1 L857.9 1019.8 L859.7 1020.4 L861.6 1021.1 L863.5 1021.7 L865.4 1022.3 L867.3 1023.0 L869.2 1023.6 L871.1 1024.2 L873.0 1024.8 L874.9 1025.4 L876.8 1026.0 L878.7 1026.6 L880.6 1027.2 L882.5 1027.8 L884.4 1028.3 L886.4 1028.9 L888.3 1029.5 L890.2 1030.0 L892.2 1030.6 L894.1 1031.1 L896.0 1031.6 L898.0 1032.2 L899.9 1032.7 L901.9 1033.2 L903.8 1033.7 L905.8 1034.2 L907.7 1034.7 L909.7 1035.2 L911.7 1035.7 L913.6 1036.2 L915.6 1036.7 L917.6 1037.1 L919.6 1037.6 L921.5 1038.1 L923.5 1038.6 L925.5 1039.0 L927.5 1039.5 L929.4 1040.0 L931.4 1040.4 L933.4 1040.9 L935.4 1041.4 L937.4 1041.9 L939.3 1042.3 L941.3 1042.8 L943.3 1043.3 L945.3 1043.8 L947.2 1044.3 L949.2 1044.7 L951.2 1045.2 L953.2 1045.7 L955.1 1046.2 L957.1 1046.7 L959.1 1047.2 L961.0 1047.8 L963.0 1048.3 L964.9 1048.8 L966.9 1049.3 L968.8 1049.9 L970.8 1050.4 L972.7 1051.0 L974.6 1051.6 L976.6 1052.1 L978.5 1052.7 L980.4 1053.3 L982.4 1053.9 L984.3 1054.5 L986.2 1055.2 L988.1 1055.8 L990.0 1056.4 L991.9 1057.1 L993.7 1057.8 L995.6 1058.5 L997.5 1059.2 L999.4 1059.9 L1001.2 1060.6 L1003.1 1061.4 L1004.9 1062.1 L1006.8 1062.9 L1008.6 1063.7 L1010.4 1064.5 L1012.2 1065.3 L1014.0 1066.1 L1015.8 1067.0 L1017.6 1067.8 L1019.4 1068.7 L1021.2 1069.6 L1022.9 1070.6 L1024.7 1071.5 L1026.4 1072.5 L1028.1 1073.5 L1029.9 1074.5 L1031.6 1075.5 L1033.3 1076.5 L1034.9 1077.6 L1036.6 1078.7 L1038.3 1079.8 L1039.9 1080.9 L1041.5 1082.0 L1043.1 1083.2 L1044.7 1084.4 L1046.3 1085.6 L1047.9 1086.8 L1049.4 1088.1 L1050.9 1089.3 L1052.5 1090.6 L1053.9 1091.9 L1055.4 1093.2 L1056.9 1094.6 L1058.3 1096.0 L1059.7 1097.4 L1061.1 1098.8 L1062.4 1100.2 L1063.8 1101.7 L1065.1 1103.1 L1066.4 1104.6 L1067.7 1106.2 L1068.9 1107.7 L1070.1 1109.3 L1071.4 1110.8 L1072.5 1112.4 L1073.7 1114.0 L1074.8 1115.7 L1075.9 1117.3 L1077.0 1119.0 L1078.1 1120.7 L1079.2 1122.4 L1080.2 1124.1 L1081.2 1125.8 L1082.2 1127.6 L1083.1 1129.3 L1084.0 1131.1 L1085.0 1132.9 L1085.8 1134.7 L1086.7 1136.5 L1087.5 1138.3 L1088.4 1140.2 L1089.1 1142.0 L1089.9 1143.9 L1090.7 1145.8 L1091.4 1147.7 L1092.1 1149.6 L1092.8 1151.5 L1093.4 1153.4 L1094.0 1155.4 L1094.7 1157.3 L1095.3 1159.2 L1095.8 1161.2 L1096.4 1163.2 L1096.9 1165.1 L1097.4 1167.1 L1097.9 1169.1 L1098.4 1171.1 L1098.9 1173.1 L1099.3 1175.1 L1099.8 1177.1 L1100.2 1179.1 L1100.6 1181.1 L1101.0 1183.1 L1101.3 1185.1 L1101.7 1187.1 L1102.0 1189.1 L1102.4 1191.2 L1102.7 1193.2 L1103.0 1195.2 L1103.3 1197.2 L1103.6 1199.2 L1103.8 1201.2 L1104.1 1203.2 L1104.4 1205.2 L1104.6 1207.2 L1104.8 1209.2 L1105.1 1211.2 L1105.3 1213.1 L1105.5 1215.1 L1105.7 1217.1 L1105.9 1219.0 L1106.1 1221.0 L1106.3 1222.9 L1106.5 1224.9 L1106.6 1226.8 L1106.8 1228.7" stroke="#5800ff"/>
<path d="M520.4 743.5 L520.7 807.4 L521.5 809.4 L522.3 811.3 L523.1 813.2 L524.0 815.1 L525.0 816.8 L526.0 818.6 L527.1 820.3 L528.2 822.0 L529.3 823.6 L530.5 825.2 L531.7 826.7 L533.0 828.3 L534.3 829.7 L535.6 831.2 L537.0 832.6 L538.4 834.0 L539.8 835.4 L541.3 836.7 L542.8 838.0 L544.3 839.3 L545.8 840.6 L547.3 841.8 L548.9 843.1 L550.5 844.3 L552.1 845.5 L553.7 846.7 L555.3 847.9 L556.9 849.1 L558.5 850.3 L560.2 851.5 L561.8 852.6 L563.4 853.8 L565.1 855.0 L566.7 856.1 L568.3 857.3 L570.0 858.5 L571.6 859.6 L573.2 860.8 L574.9 862.0 L576.5 863.1 L578.2 864.3 L579.8 865.4 L581.4 866.6 L583.1 867.7 L584.7 868.9 L586.4 870.0 L588.0 871.2 L589.7 872.3 L591.3 873.5 L593.0 874.6 L594.6 875.8 L596.3 876.9 L598.0 878.0 L599.6 879.2 L601.3 880.3 L602.9 881.4 L604.6 882.5 L606.3 883.7 L607.9 884.8 L609.6 885.9 L611.3 887.0 L612.9 888.1 L614.6 889.2 L616.3 890.3 L618.0 891.4 L619.6 892.5 L621.3 893.6 L623.0 894.7 L624.7 895.8 L626.4 896.9 L628.1 897.9 L629.8 899.0 L631.5 900.1 L633.2 901.2 L634.9 902.2 L636.6 903.3 L638.3 904.4 L640.0 905.4 L641.7 906.5 L643.4 907.5 L645.1 908.5 L646.8 909.6 L648.5 910.6 L650.3 911.6 L652.0 912.7 L653.7 913.7 L655.4 914.7 L657.2 915.7 L658.9 916.7 L660.6 917.7 L662.4 918.7 L664.1 919.7 L665.8 920.7 L667.6 921.7 L669.3 922.7 L671.1 923.7 L672.8 924.7 L674.6 925.6 L676.3 926.6 L678.1 927.6 L679.9 928.5 L681.6 929.5 L683.4 930.5 L685.1 931.4 L686.9 932.3 L688.7 933.3 L690.5 934.2 L692.2 935.2 L694.0 936.1 L695.8 937.0 L697.6 938.0 L699.3 938.9 L701.1 939.8 L702.9 940.7 L704.7 941.6 L706.5 942.5 L708.3 943.4 L710.1 944.3 L711.9 945.2 L713.7 946.1 L715.5 947.0 L717.3 947.9 L719.1 948.8 L720.9 949.6 L722.7 950.5 L724.5 951.4 L726.3 952.3 L728.1 953.1 L729.9 954.0 L731.7 954.8 L733.6 955.7 L735.4 956.5 L737.2 957.4 L739.0 958.2 L740.8 959.1 L742.7 959.9 L744.5 960.7 L746.3 961.6 L748.1 962.4 L750.0 963.2 L751.8 964.0 L753.6 964.8 L755.5 965.7 L757.3 966.5 L759.1 967.3 L761.0 968.1 L762.8 968.9 L764.7 969.7 L766.5 970.5 L768.4 971.3 L770.2 972.0 L772.1 972.8 L773.9 973.6 L775.8 974.4 L777.6 975.2 L779.5 975.9 L781.3 976.7 L783.2 977.5 L785.0 978.2 L786.9 979.0 L788.7 979.7 L790.6 980.5 L792.5 981.2 L794.3 982.0 L796.2 982.7 L798.1 983.5 L799.9 984.2 L801.8 984.9 L803.7 985.7 L805.5 986.4 L807.4 987.1 L809.3 987.9 L811.1 988.6 L813.0 989.3 L814.9 990.0 L816.8 990.7 L818.6 991.4 L820.5 992.1 L822.4 992.8 L824.3 993.5 L826.2 994.2 L828.0 994.9 L829.9 995.6 L831.8 996.3 L833.7 997.0 L835.6 997.7 L837.5 998.4 L839.3 999.0 L841.2 999.7 L843.1 1000.4 L845.0 1001.1 L846.9 1001.7 L848.8 1002.4 L850.7 1003.1 L852.6 1003.7 L854.5 1004.4 L856.3 1005.0 L858.2 1005.7 L860.1 1006.3 L862.0 1007.0 L863.9 1007.6 L865.8 1008.3 L867.7 1008.9 L869.6 1009.5 L871.5 1010.2 L873.4 1010.8 L875.3 1011.4 L877.2 1012.1 L879.1 1012.7 L881.0 1013.3 L882.9 1013.9 L884.8 1014.6 L886.7 1015.2 L888.6 1015.8 L890.5 1016.4 L892.4 1017.0 L894.3 1017.7 L896.2 1018.3 L898.1 1018.9 L900.0 1019.5 L902.0 1020.1 L903.9 1020.7 L905.8 1021.3 L907.7 1021.9 L909.6 1022.5 L911.5 1023.1 L913.4 1023.7 L915.3 1024.4 L917.2 1025.0 L919.1 1025.6 L921.1 1026.2 L923.0 1026.8 L924.9 1027.4 L926.8 1028.0 L928.7 1028.6 L930.6 1029.2 L932.5 1029.8 L934.5 1030.4 L936.4 1031.0 L938.3 1031.6 L940.2 1032.2 L942.1 1032.8 L944.1 1033.3 L946.0 1033.9 L947.9 1034.5 L949.8 1035.1 L951.7 1035.7 L953.7 1036.3 L955.6 1036.9 L957.5 1037.5 L959.4 1038.2 L961.4 1038.8 L963.3 1039.4 L965.2 1040.0 L967.1 1040.6 L969.1 1041.2 L971.0 1041.8 L972.9 1042.4 L974.9 1043.0 L976.8 1043.6 L978.7 1044.2 L980.6 1044.8 L982.6 1045.4 L984.5 1046.1 L986.4 1046.7 L988.4 1047.3 L990.3 1047.9 L992.2 1048.5 L994.2 1049.2 L996.1 1049.8 L998.0 1050.5 L999.9 1051.1 L1001.8 1051.8 L1003.7 1052.5 L1005.6 1053.2 L1007.5 1053.9 L1009.4 1054.6 L1011.2 1055.3 L1013.1 1056.1 L1014.9 1056.8 L1016.8 1057.6 L1018.6 1058.4 L1020.4 1059.2 L1022.2 1060.1 L1024.0 1060.9 L1025.8 1061.8 L1027.5 1062.7 L1029.3 1063.6 L1031.0 1064.6 L1032.7 1065.5 L1034.4 1066.5 L1036.1 1067.5 L1037.7 1068.6 L1039.4 1069.7 L1041.0 1070.8 L1042.6 1071.9 L1044.2 1073.1 L1045.7 1074.3 L1047.2 1075.5 L1048.7 1076.8 L1050.2 1078.1 L1051.7 1079.4 L1053.1 1080.8 L1054.6 1082.1 L1056.0 1083.5 L1057.3 1085.0 L1058.7 1086.4 L1060.0 1087.9 L1061.3 1089.4 L1062.6 1090.9 L1063.9 1092.5 L1065.1 1094.0 L1066.3 1095.6 L1067.6 1097.3 L1068.7 1098.9 L1069.9 1100.5 L1071.0 1102.2 L1072.1 1103.9 L1073.2 1105.6 L1074.3 1107.3 L1075.4 1109.1 L1076.4 1110.8 L1077.4 1112.6 L1078.4 1114.4 L1079.3 1116.2 L1080.3 1118.0 L1081.2 1119.8 L1082.1 1121.6 L1083.0 1123.5 L1083.8 1125.3 L1084.6 1127.2 L1085.4 1129.0 L1086.2 1130.9 L1087.0 1132.8 L1087.7 1134.7 L1088.5 1136.6 L1089.2 1138.5 L1089.8 1140.4 L1090.5 1142.3 L1091.1 1144.2 L1091.7 1146.1 L1092.3 1148.0 L1092.9 1150.0 L1093.5 1151.9 L1094.0 1153.8 L1094.5 1155.7 L1095.0 1157.7 L1095.5 1159.6 L1096.0 1161.5 L1096.4 1163.5 L1096.8 1165.4 L1097.3 1167.4 L1097.7 1169.3 L1098.1 1171.3 L1098.5 1173.2 L1098.8 1175.2 L1099.2 1177.1 L1099.5 1179.1 L1099.9 1181.0 L1100.2 1183.0 L1100.5 1185.0 L1100.9 1186.9 L1101.2 1188.9 L1101.5 1190.9 L1101.8 1192.8 L1102.0 1194.8 L1102.3 1196.8 L1102.6 1198.8 L1102.9 1200.8 L1103.2 1202.7 L1103.4 1204.7 L1103.7 1206.7 L1104.0 1208.7 L1104.3 1210.7 L1104.5 1212.7 L1104.8 1214.7 L1105.1 1216.7 L1105.4 1218.7 L1105.7 1220.7 L1105.9 1222.7 L1106.2 1224.7 L1106.5 1226.7 L1106.8 1228.7" stroke="#4e0058"/>
</g>
<path d="M560.8 1228.7v-5.5M560.8 740.0v5.5M602.9 1228.7v-10M602.9 740.0v10M645.0 1228.7v-5.5M645.0 740.0v5.5M687.1 1228.7v-10M687.1 740.0v10M729.2 1228.7v-5.5M729.2 740.0v5.5M771.3 1228.7v-10M771.3 740.0v10M813.4 1228.7v-5.5M813.4 740.0v5.5M855.5 1228.7v-10M855.5 740.0v10M897.5 1228.7v-5.5M897.5 740.0v5.5M939.6 1228.7v-10M939.6 740.0v10M981.7 1228.7v-5.5M981.7 740.0v5.5M1023.8 1228.7v-10M1023.8 740.0v10M1065.9 1228.7v-5.5M1065.9 740.0v5.5M1108.0 1228.7v-10M1108.0 740.0v10M1150.1 1228.7v-5.5M1150.1 740.0v5.5M518.7 1193.8h5.5M1192.2 1193.8h-5.5M518.7 1158.9h10M1192.2 1158.9h-10M518.7 1124.0h5.5M1192.2 1124.0h-5.5M518.7 1089.1h10M1192.2 1089.1h-10M518.7 1054.2h5.5M1192.2 1054.2h-5.5M518.7 1019.3h10M1192.2 1019.3h-10M518.7 984.3h5.5M1192.2 984.3h-5.5M518.7 949.4h10M1192.2 949.4h-10M518.7 914.5h5.5M1192.2 914.5h-5.5M518.7 879.6h10M1192.2 879.6h-10M518.7 844.7h5.5M1192.2 844.7h-5.5M518.7 809.8h10M1192.2 809.8h-10M518.7 774.9h5.5M1192.2 774.9h-5.5" stroke="#000" stroke-width="3" fill="none"/>
<rect x="518.7" y="740.0" width="673.5" height="488.7" fill="none" stroke="#000" stroke-width="3"/>
<g font-family="'Liberation Serif', 'Times New Roman', serif" font-weight="bold" font-size="23.5" fill="#000"><text x="518.7" y="1258.2" text-anchor="middle">0</text><text x="602.9" y="1258.2" text-anchor="middle">5</text><text x="687.1" y="1258.2" text-anchor="middle">10</text><text x="771.3" y="1258.2" text-anchor="middle">15</text><text x="855.5" y="1258.2" text-anchor="middle">20</text><text x="939.6" y="1258.2" text-anchor="middle">25</text><text x="1023.8" y="1258.2" text-anchor="middle">30</text><text x="1108.0" y="1258.2" text-anchor="middle">35</text><text x="1192.2" y="1258.2" text-anchor="middle">40</text><text x="507.2" y="1235.9" text-anchor="end">2.8</text><text x="507.2" y="1166.1" text-anchor="end">3.0</text><text x="507.2" y="1096.3" text-anchor="end">3.2</text><text x="507.2" y="1026.5" text-anchor="end">3.4</text><text x="507.2" y="956.6" text-anchor="end">3.6</text><text x="507.2" y="886.8" text-anchor="end">3.8</text><text x="507.2" y="817.0" text-anchor="end">4.0</text><text x="507.2" y="747.2" text-anchor="end">4.2</text></g>
<text x="854.0" y="1303.0" text-anchor="middle" font-family="'Liberation Serif', 'Times New Roman', serif" font-weight="bold" font-size="33.5">Capacity [Ah]</text>
<text transform="translate(441.0 1000.2) rotate(-90)" text-anchor="middle" font-family="'Liberation Serif', 'Times New Roman', serif" font-weight="bold" font-size="33.5">Voltage [V]</text>
<g font-family="'Liberation Serif', 'Times New Roman', serif" font-weight="bold" font-size="24.5" fill="#000"><path d="M1028.2 788.3H1084.5" stroke="#000000" stroke-width="3.2" stroke-linecap="round"/><text x="1162.5" y="796.3" text-anchor="end">- 30 °C</text><path d="M1028.2 818.5H1084.5" stroke="#9e1a1a" stroke-width="3.2" stroke-linecap="round"/><text x="1162.5" y="826.5" text-anchor="end">- 20 °C</text><path d="M1028.2 848.8H1084.5" stroke="#0000f0" stroke-width="3.2" stroke-linecap="round"/><text x="1162.5" y="856.8" text-anchor="end">- 10 °C</text><path d="M1028.2 879.0H1084.5" stroke="#e000e8" stroke-width="3.2" stroke-linecap="round"/><text x="1162.5" y="887.0" text-anchor="end">0 °C</text><path d="M1028.2 909.3H1084.5" stroke="#2e7424" stroke-width="3.2" stroke-linecap="round"/><text x="1162.5" y="917.3" text-anchor="end">10 °C</text><path d="M1028.2 939.5H1084.5" stroke="#00004a" stroke-width="3.2" stroke-linecap="round"/><text x="1162.5" y="947.5" text-anchor="end">20 °C</text><path d="M1028.2 969.8H1084.5" stroke="#5800ff" stroke-width="3.2" stroke-linecap="round"/><text x="1162.5" y="977.8" text-anchor="end">30 °C</text><path d="M1028.2 1000.0H1084.5" stroke="#4e0058" stroke-width="3.2" stroke-linecap="round"/><text x="1162.5" y="1008.0" text-anchor="end">40 °C</text></g>
<text x="418.4" y="746.3" font-family="'Liberation Sans', Arial, sans-serif" font-weight="bold" font-size="41">C</text>
<text x="495.3" y="668" font-family="'Liberation Serif', 'Times New Roman', serif" font-size="45" text-anchor="middle">1 C-rate</text>
<text x="1270.2" y="668" font-family="'Liberation Serif', 'Times New Roman', serif" font-size="45" text-anchor="middle">2 C-rate</text>
<text x="874" y="1398" font-family="'Liberation Serif', 'Times New Roman', serif" font-size="45" text-anchor="middle">3 C-rate</text>
</svg></body></html>
